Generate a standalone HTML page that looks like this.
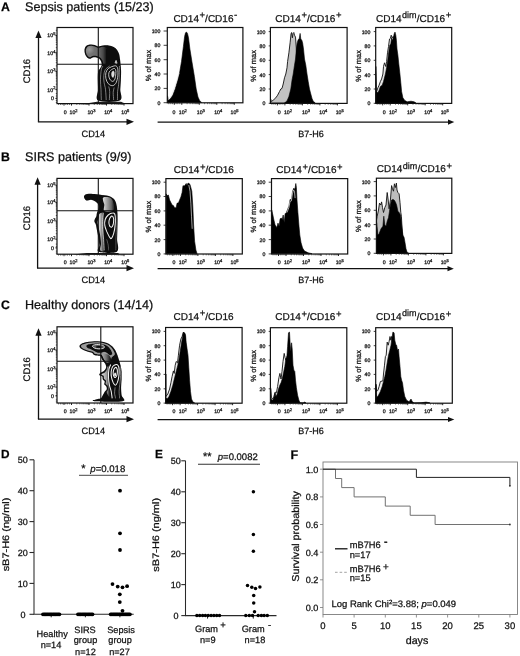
<!DOCTYPE html>
<html lang="en"><head><meta charset="utf-8"><title>Figure</title>
<style>
html,body{margin:0;padding:0;background:#fff;}
body{width:520px;height:656px;overflow:hidden;}
svg{display:block;font-family:'Liberation Sans', sans-serif;}
svg text{text-rendering:geometricPrecision;stroke:#111;stroke-width:0.25px;font-family:'Liberation Sans', sans-serif;}
</style></head><body>
<svg width="520" height="656" viewBox="0 0 520 656">
<rect x="0" y="0" width="520" height="656" fill="#fff"/>
<text x="1" y="10.5" font-size="12.3" text-anchor="start" font-weight="bold" font-style="normal" fill="#000">A</text>
<text x="25" y="10.5" font-size="12.6" text-anchor="start" font-weight="normal" font-style="normal" fill="#111">Sepsis patients (15/23)</text>
<g transform="translate(57 27.5)"><defs><linearGradient id="gA1" gradientUnits="userSpaceOnUse" x1="28" y1="0" x2="50" y2="0"><stop offset="0" stop-color="#7c7c7c"/><stop offset="0.6" stop-color="#6a6a6a"/><stop offset="0.82" stop-color="#4a4a4a"/><stop offset="1" stop-color="#0a0a0a"/></linearGradient><radialGradient id="gA2" gradientUnits="userSpaceOnUse" cx="32.5" cy="22" r="5"><stop offset="0" stop-color="#999"/><stop offset="1" stop-color="#999" stop-opacity="0"/></radialGradient><filter id="bl" x="-10%" y="-10%" width="120%" height="120%"><feGaussianBlur stdDeviation="0.3"/></filter></defs>
<g filter="url(#bl)">
<path d="M41.3 73.1C37.7 71.2 41.2 65.5 41.1 62.0C41.0 58.5 40.8 55.1 40.8 52.1C40.8 49.1 40.8 46.0 41.1 44.2C41.4 42.4 42.2 42.4 42.8 41.4C43.4 40.4 44.3 39.2 44.6 38.0C44.8 36.9 44.7 35.6 44.3 34.5C43.9 33.4 43.1 32.1 42.3 31.3C41.5 30.6 40.4 30.2 39.3 29.9C38.3 29.7 36.9 29.7 35.9 29.9C34.8 30.2 33.8 31.2 32.9 31.3C32.0 31.4 31.2 30.9 30.4 30.3C29.7 29.7 28.9 28.7 28.4 27.5C28.0 26.4 27.5 24.8 27.5 23.6C27.4 22.4 27.5 21.2 28.0 20.2C28.4 19.2 29.1 18.3 30.1 17.7C31.1 17.2 32.6 17.0 33.9 17.0C35.2 16.9 36.6 17.3 37.9 17.6C39.1 18.0 40.0 19.0 41.3 19.0C42.6 19.1 44.0 18.2 45.8 18.0C47.5 17.9 49.9 17.7 51.7 17.9C53.5 18.2 55.3 18.7 56.7 19.4C58.1 20.2 59.2 21.2 60.1 22.4C61.0 23.6 61.6 24.9 62.1 26.6C62.6 28.2 62.8 30.4 63.1 32.3C63.4 34.2 63.5 36.3 63.7 38.2C63.9 40.2 64.1 41.9 64.1 44.2C64.1 46.5 64.0 49.1 63.9 52.1C63.8 55.1 63.5 58.5 63.3 62.0C63.1 65.5 66.5 71.2 62.8 73.1C59.1 74.9 44.9 74.9 41.3 73.1Z" fill="#080808"/>
<path d="M29.3 21.2C29.0 22.0 28.8 22.6 28.8 23.6C28.9 24.5 29.2 26.0 29.6 26.9C30.0 27.7 30.7 28.4 31.3 28.9C31.9 29.4 32.4 29.9 33.1 29.8C33.8 29.8 34.6 28.8 35.7 28.5C36.7 28.3 38.2 28.3 39.3 28.5C40.5 28.8 41.6 29.1 42.6 29.8C43.6 30.5 44.7 31.7 45.3 32.8C45.9 33.9 45.8 35.7 46.4 36.3C47.0 36.8 48.4 36.7 48.9 36.1C49.5 35.4 49.5 33.8 49.5 32.3C49.5 30.8 49.0 28.8 48.9 27.4C48.9 25.9 49.1 24.5 49.3 23.4C49.6 22.3 50.6 21.6 50.3 20.9C50.1 20.3 48.5 19.7 47.8 19.4C47.0 19.2 46.6 19.2 45.6 19.3C44.5 19.5 42.7 20.4 41.4 20.3C40.1 20.3 39.1 19.3 37.9 18.9C36.6 18.6 35.0 18.2 33.9 18.2C32.7 18.2 31.7 18.4 30.9 18.9C30.2 19.4 29.7 20.4 29.3 21.2Z" fill="url(#gA1)"/>
<path d="M29.3 21.2C29.0 22.0 28.8 22.6 28.8 23.6C28.9 24.5 29.2 26.0 29.6 26.9C30.0 27.7 30.7 28.4 31.3 28.9C31.9 29.4 32.4 29.9 33.1 29.8C33.8 29.8 34.6 28.8 35.7 28.5C36.7 28.3 38.2 28.3 39.3 28.5C40.5 28.8 41.6 29.1 42.6 29.8C43.6 30.5 44.7 31.7 45.3 32.8C45.9 33.9 45.8 35.7 46.4 36.3C47.0 36.8 48.4 36.7 48.9 36.1C49.5 35.4 49.5 33.8 49.5 32.3C49.5 30.8 49.0 28.8 48.9 27.4C48.9 25.9 49.1 24.5 49.3 23.4C49.6 22.3 50.6 21.6 50.3 20.9C50.1 20.3 48.5 19.7 47.8 19.4C47.0 19.2 46.6 19.2 45.6 19.3C44.5 19.5 42.7 20.4 41.4 20.3C40.1 20.3 39.1 19.3 37.9 18.9C36.6 18.6 35.0 18.2 33.9 18.2C32.7 18.2 31.7 18.4 30.9 18.9C30.2 19.4 29.7 20.4 29.3 21.2Z" fill="url(#gA2)"/>
<path d="M29 76 L40 74.3 L64 74.3 L68 76 Z" fill="#1a1a1a"/>
<path d="M59.1 32.3C58.7 32.3 57.4 35.1 57.7 35.8C57.9 36.4 60.2 36.6 60.4 36.1C60.7 35.5 59.6 32.4 59.1 32.3Z" fill="#bbb"/>
<path d="M55.9 43.4C55.4 43.6 54.7 44.7 54.5 45.7C54.3 46.6 54.6 48.2 54.9 48.9C55.2 49.6 55.9 50.2 56.3 49.9C56.7 49.6 57.1 48.1 57.3 47.2C57.4 46.2 57.4 45.0 57.2 44.4C56.9 43.8 56.3 43.2 55.9 43.4Z" fill="#ddd" stroke="#eee" stroke-width="0.3"/>
<path d="M56.7 41.0C55.7 41.3 53.5 42.7 52.7 43.7C51.9 44.7 51.7 45.8 51.7 47.2C51.7 48.5 52.0 50.5 52.7 51.6C53.4 52.7 54.8 53.9 55.7 53.9C56.5 53.9 57.3 52.9 57.9 51.6C58.4 50.3 58.7 47.7 58.8 46.2C59.0 44.6 59.0 43.1 58.6 42.2C58.3 41.3 57.7 40.8 56.7 41.0Z" stroke="#f0f0f0" fill="none" stroke-width="0.8"/>
<path d="M57.2 38.4C55.8 38.7 53.1 39.6 51.7 40.7C50.3 41.8 49.4 43.4 48.9 45.2C48.5 46.9 48.6 49.3 48.9 51.1C49.3 52.9 50.2 54.9 51.2 56.1C52.3 57.3 53.9 58.2 55.2 58.2C56.4 58.2 57.7 57.4 58.6 56.1C59.6 54.7 60.2 52.3 60.6 50.1C61.0 48.0 61.1 45.0 60.9 43.2C60.8 41.3 60.5 39.8 59.8 39.0C59.2 38.2 58.5 38.2 57.2 38.4Z" stroke="#f0f0f0" fill="none" stroke-width="0.8"/>
<path d="M46.0 38.4C45.7 39.1 44.7 39.9 44.3 42.2C43.9 44.5 43.5 48.8 43.5 52.1C43.4 55.4 43.9 58.6 44.0 62.0C44.1 65.4 44.2 70.8 44.3 72.5" stroke="#cfcfcf" fill="none" stroke-width="0.6"/>
<path d="M52.7 38.4C52.0 39.1 49.2 40.6 48.2 42.2C47.3 43.8 47.0 46.0 46.8 48.1C46.6 50.3 46.8 52.8 47.1 55.1C47.4 57.4 48.2 59.1 48.5 62.0C48.9 64.9 49.1 70.8 49.2 72.5" stroke="#cfcfcf" fill="none" stroke-width="0.6"/>
<path d="M51.7 59.0C51.9 59.9 52.6 61.7 52.7 64.0C52.8 66.2 52.4 71.1 52.3 72.5" stroke="#cfcfcf" fill="none" stroke-width="0.6"/>
<path d="M57.2 60.0C57.0 60.8 56.3 62.9 56.2 65.0C56.1 67.1 56.6 71.2 56.7 72.5" stroke="#cfcfcf" fill="none" stroke-width="0.6"/>
<path d="M62.4 38.4C62.4 39.9 62.4 44.1 62.3 47.2C62.2 50.3 61.9 54.2 61.6 57.1C61.3 59.9 60.8 61.4 60.6 64.0C60.4 66.6 60.5 71.1 60.4 72.5" stroke="#cfcfcf" fill="none" stroke-width="0.6"/>
</g></g>
<rect x="57" y="27.5" width="76" height="76.1" fill="none" stroke="#111" stroke-width="1.2"/>
<line x1="98.3" y1="27.5" x2="98.3" y2="103.6" stroke="#111" stroke-width="1.1"/>
<line x1="57" y1="64.3" x2="133" y2="64.3" stroke="#111" stroke-width="1.1"/>
<path d="M64 103.6 v2 M71.5 103.6 v2 M89 103.6 v2 M106.5 103.6 v2 M124 103.6 v2 " stroke="#111" stroke-width="0.9" fill="none"/>
<path d="M76.8 103.6 v1.4 M79.8 103.6 v1.4 M82.0 103.6 v1.4 M83.7 103.6 v1.4 M85.1 103.6 v1.4 M86.3 103.6 v1.4 M87.3 103.6 v1.4 M88.2 103.6 v1.4 M94.3 103.6 v1.4 M97.3 103.6 v1.4 M99.5 103.6 v1.4 M101.2 103.6 v1.4 M102.6 103.6 v1.4 M103.8 103.6 v1.4 M104.8 103.6 v1.4 M105.7 103.6 v1.4 M111.8 103.6 v1.4 M114.8 103.6 v1.4 M117.0 103.6 v1.4 M118.7 103.6 v1.4 M120.1 103.6 v1.4 M121.3 103.6 v1.4 M122.3 103.6 v1.4 M123.2 103.6 v1.4 M58.5 103.6 v1.4 M60.5 103.6 v1.4 M62.2 103.6 v1.4 M65.8 103.6 v1.4 M67.5 103.6 v1.4 M69.5 103.6 v1.4 " stroke="#222" stroke-width="0.6" fill="none"/>
<text x="55.4" y="37.4" font-size="5.2" text-anchor="end" fill="#111">10<tspan font-size="4.06" dy="-2.2">5</tspan></text>
<text x="55.4" y="54.7" font-size="5.2" text-anchor="end" fill="#111">10<tspan font-size="4.06" dy="-2.2">4</tspan></text>
<text x="55.4" y="73.4" font-size="5.2" text-anchor="end" fill="#111">10<tspan font-size="4.06" dy="-2.2">3</tspan></text>
<text x="55.4" y="91.5" font-size="5.2" text-anchor="end" fill="#111">10<tspan font-size="4.06" dy="-2.2">2</tspan></text>
<text x="53.8" y="100.3" font-size="5.2" text-anchor="end" font-weight="normal" font-style="normal" fill="#111">0</text>
<path d="M57 35.5 h-1.6 M57 52.8 h-1.6 M57 71.5 h-1.6 M57 89.6 h-1.6 M57 98.4 h-1.6 " stroke="#111" stroke-width="0.9" fill="none"/>
<path d="M57 47.6 h-1.2 M57 44.5 h-1.2 M57 42.4 h-1.2 M57 40.7 h-1.2 M57 39.3 h-1.2 M57 38.2 h-1.2 M57 37.2 h-1.2 M57 36.3 h-1.2 M57 65.9 h-1.2 M57 62.6 h-1.2 M57 60.2 h-1.2 M57 58.4 h-1.2 M57 56.9 h-1.2 M57 55.7 h-1.2 M57 54.6 h-1.2 M57 53.7 h-1.2 M57 84.2 h-1.2 M57 81.0 h-1.2 M57 78.7 h-1.2 M57 76.9 h-1.2 M57 75.5 h-1.2 M57 74.3 h-1.2 M57 73.3 h-1.2 M57 72.3 h-1.2 M57 93.5 h-1.2 M57 96.0 h-1.2 M57 100.5 h-1.2 M57 102.5 h-1.2 M57 30.3 h-1.2 " stroke="#111" stroke-width="0.6" fill="none"/>
<text x="65.2" y="114.4" font-size="5.2" text-anchor="middle" font-weight="normal" font-style="normal" fill="#111">0</text>
<text x="73.6" y="114.4" font-size="5.2" text-anchor="middle" fill="#111">10<tspan font-size="4.06" dy="-2.2">2</tspan></text>
<text x="91.5" y="114.4" font-size="5.2" text-anchor="middle" fill="#111">10<tspan font-size="4.06" dy="-2.2">3</tspan></text>
<text x="108.2" y="114.4" font-size="5.2" text-anchor="middle" fill="#111">10<tspan font-size="4.06" dy="-2.2">4</tspan></text>
<text x="125.3" y="114.4" font-size="5.2" text-anchor="middle" fill="#111">10<tspan font-size="4.06" dy="-2.2">5</tspan></text>
<line x1="38.5" y1="121.8" x2="38.5" y2="33.4" stroke="#111" stroke-width="1.3"/>
<path d="M38.5 30.4 L35.4 37.9 L41.6 37.9 Z" fill="#111"/>
<line x1="37.9" y1="121.8" x2="131" y2="121.8" stroke="#111" stroke-width="1.3"/>
<path d="M134 121.8 L126.5 118.7 L126.5 124.89999999999999 Z" fill="#111"/>
<text x="93.3" y="137.3" font-size="9.2" text-anchor="middle" font-weight="normal" font-style="normal" fill="#111">CD14</text>
<text x="0" y="0" font-size="9.5" text-anchor="middle" font-weight="normal" font-style="normal" fill="#111" transform="translate(29.9 71.2) rotate(-90)">CD16</text>
<path d="M167.5 95.9 L168.4 100.2 L170.2 99.0 L172.8 95.2 L175.2 89.0 L177.8 80.2 L179.6 72.8 L181.5 61.5 L183.4 46.5 L184.6 36.5 L185.5 32.8 L186.5 32.1 L187.5 33.4 L188.5 37.8 L189.9 49.0 L191.9 61.5 L194.4 76.5 L196.2 89.0 L198.0 97.1 L199.8 100.9 L201.5 102.2 L201.5 102.5 L167.5 102.5 Z" fill="#000" stroke="#000" stroke-width="0.6" stroke-linejoin="round"/>
<path d="M168.4 99.6 L171.5 95.5 L174.6 87.1 L177.1 79.6 L179.0 73.0 " fill="none" stroke="#e8e8e8" stroke-width="0.7" stroke-linejoin="round"/>
<rect x="167.3" y="27.5" width="75.6" height="75.3" fill="none" stroke="#111" stroke-width="1.2"/>
<path d="M174.3 102.8 v2 M181.8 102.8 v2 M199.3 102.8 v2 M216.8 102.8 v2 M234.3 102.8 v2 " stroke="#111" stroke-width="0.9" fill="none"/>
<path d="M187.1 102.8 v1.4 M190.1 102.8 v1.4 M192.3 102.8 v1.4 M194.0 102.8 v1.4 M195.4 102.8 v1.4 M196.6 102.8 v1.4 M197.6 102.8 v1.4 M198.5 102.8 v1.4 M204.6 102.8 v1.4 M207.6 102.8 v1.4 M209.8 102.8 v1.4 M211.5 102.8 v1.4 M212.9 102.8 v1.4 M214.1 102.8 v1.4 M215.1 102.8 v1.4 M216.0 102.8 v1.4 M222.1 102.8 v1.4 M225.1 102.8 v1.4 M227.3 102.8 v1.4 M229.0 102.8 v1.4 M230.4 102.8 v1.4 M231.6 102.8 v1.4 M232.6 102.8 v1.4 M233.5 102.8 v1.4 M168.8 102.8 v1.4 M170.8 102.8 v1.4 M172.5 102.8 v1.4 M176.10000000000002 102.8 v1.4 M177.8 102.8 v1.4 M179.8 102.8 v1.4 " stroke="#222" stroke-width="0.6" fill="none"/>
<text x="160.29999999999998" y="104.6" font-size="5.2" text-anchor="end" font-weight="normal" font-style="normal" fill="#111">0</text>
<text x="160.29999999999998" y="90.3" font-size="5.2" text-anchor="end" font-weight="normal" font-style="normal" fill="#111">20</text>
<text x="160.29999999999998" y="75.9" font-size="5.2" text-anchor="end" font-weight="normal" font-style="normal" fill="#111">40</text>
<text x="160.29999999999998" y="61.6" font-size="5.2" text-anchor="end" font-weight="normal" font-style="normal" fill="#111">60</text>
<text x="160.29999999999998" y="47.2" font-size="5.2" text-anchor="end" font-weight="normal" font-style="normal" fill="#111">80</text>
<text x="160.29999999999998" y="32.9" font-size="5.2" text-anchor="end" font-weight="normal" font-style="normal" fill="#111">100</text>
<path d="M167.3 102.7 h-3.7 M167.3 88.4 h-3.7 M167.3 74.0 h-3.7 M167.3 59.7 h-3.7 M167.3 45.3 h-3.7 M167.3 31.0 h-3.7 " stroke="#111" stroke-width="0.8" fill="none"/>
<text x="174.0" y="114.4" font-size="5.2" text-anchor="middle" font-weight="normal" font-style="normal" fill="#111">0</text>
<text x="182.8" y="114.4" font-size="5.2" text-anchor="middle" fill="#111">10<tspan font-size="4.06" dy="-2.2">2</tspan></text>
<text x="200.8" y="114.4" font-size="5.2" text-anchor="middle" fill="#111">10<tspan font-size="4.06" dy="-2.2">3</tspan></text>
<text x="218.2" y="114.4" font-size="5.2" text-anchor="middle" fill="#111">10<tspan font-size="4.06" dy="-2.2">4</tspan></text>
<text x="234.6" y="114.4" font-size="5.2" text-anchor="middle" fill="#111">10<tspan font-size="4.06" dy="-2.2">5</tspan></text>
<text x="0" y="0" font-size="7.6" text-anchor="middle" font-weight="normal" font-style="normal" fill="#111" transform="translate(151.29999999999998 65.5) rotate(-90)">% of max</text>
<text x="205.3" y="21.7" font-size="10" text-anchor="middle" fill="#111">CD14<tspan font-size="9.5" dy="-3.3" dx="0.6">+</tspan><tspan dy="3.3">/CD16</tspan><tspan font-size="10" dy="-3.6" dx="0.4">-</tspan></text>
<path d="M270.6 99.0 L271.4 101.5 L273.2 100.2 L275.8 97.8 L277.6 95.2 L279.5 91.5 L280.8 89.0 L282.0 88.4 L283.2 84.0 L284.5 77.8 L285.8 74.0 L287.0 67.8 L287.6 61.5 L288.9 52.8 L290.1 42.8 L291.0 34.0 L291.6 32.5 L292.4 37.8 L293.0 33.4 L293.8 32.5 L294.5 35.2 L295.5 37.1 L296.0 44.0 L296.6 52.8 L298.2 74.0 L299.8 94.0 L300.8 102.1 L300.8 103.1 L270.6 103.1 Z" fill="#c2c2c2" stroke="#111" stroke-width="0.9" stroke-linejoin="round"/>
<path d="M284.5 103.0 L287.0 100.9 L288.9 96.5 L290.8 89.0 L292.0 80.2 L293.2 74.0 L294.5 65.2 L295.5 59.0 L296.4 49.0 L297.2 42.8 L298.2 39.6 L299.2 39.0 L300.1 33.4 L300.8 39.0 L301.8 40.2 L302.6 42.8 L303.5 49.0 L304.5 59.0 L305.8 65.2 L307.0 74.0 L308.2 81.5 L309.5 89.0 L310.8 94.0 L312.0 98.4 L313.2 101.2 L315.1 102.8 L315.1 103.1 L284.5 103.1 Z" fill="#000" stroke="#000" stroke-width="0.6" stroke-linejoin="round"/>
<rect x="270.4" y="27.5" width="76.7" height="75.9" fill="none" stroke="#111" stroke-width="1.2"/>
<path d="M277.4 103.4 v2 M284.9 103.4 v2 M302.4 103.4 v2 M319.9 103.4 v2 M337.4 103.4 v2 " stroke="#111" stroke-width="0.9" fill="none"/>
<path d="M290.2 103.4 v1.4 M293.2 103.4 v1.4 M295.4 103.4 v1.4 M297.1 103.4 v1.4 M298.5 103.4 v1.4 M299.7 103.4 v1.4 M300.7 103.4 v1.4 M301.6 103.4 v1.4 M307.7 103.4 v1.4 M310.7 103.4 v1.4 M312.9 103.4 v1.4 M314.6 103.4 v1.4 M316.0 103.4 v1.4 M317.2 103.4 v1.4 M318.2 103.4 v1.4 M319.1 103.4 v1.4 M325.2 103.4 v1.4 M328.2 103.4 v1.4 M330.4 103.4 v1.4 M332.1 103.4 v1.4 M333.5 103.4 v1.4 M334.7 103.4 v1.4 M335.7 103.4 v1.4 M336.6 103.4 v1.4 M271.9 103.4 v1.4 M273.9 103.4 v1.4 M275.59999999999997 103.4 v1.4 M279.2 103.4 v1.4 M280.9 103.4 v1.4 M282.9 103.4 v1.4 " stroke="#222" stroke-width="0.6" fill="none"/>
<text x="265.40000000000003" y="105.2" font-size="5.2" text-anchor="end" font-weight="normal" font-style="normal" fill="#111">0</text>
<text x="265.40000000000003" y="90.9" font-size="5.2" text-anchor="end" font-weight="normal" font-style="normal" fill="#111">20</text>
<text x="265.40000000000003" y="76.5" font-size="5.2" text-anchor="end" font-weight="normal" font-style="normal" fill="#111">40</text>
<text x="265.40000000000003" y="62.2" font-size="5.2" text-anchor="end" font-weight="normal" font-style="normal" fill="#111">60</text>
<text x="265.40000000000003" y="47.8" font-size="5.2" text-anchor="end" font-weight="normal" font-style="normal" fill="#111">80</text>
<text x="265.40000000000003" y="33.5" font-size="5.2" text-anchor="end" font-weight="normal" font-style="normal" fill="#111">100</text>
<path d="M270.4 103.3 h-1.7 M270.4 89.0 h-1.7 M270.4 74.6 h-1.7 M270.4 60.3 h-1.7 M270.4 45.9 h-1.7 M270.4 31.6 h-1.7 " stroke="#111" stroke-width="0.8" fill="none"/>
<text x="279.1" y="114.4" font-size="5.2" text-anchor="middle" font-weight="normal" font-style="normal" fill="#111">0</text>
<text x="287.9" y="114.4" font-size="5.2" text-anchor="middle" fill="#111">10<tspan font-size="4.06" dy="-2.2">2</tspan></text>
<text x="305.9" y="114.4" font-size="5.2" text-anchor="middle" fill="#111">10<tspan font-size="4.06" dy="-2.2">3</tspan></text>
<text x="323.3" y="114.4" font-size="5.2" text-anchor="middle" fill="#111">10<tspan font-size="4.06" dy="-2.2">4</tspan></text>
<text x="339.7" y="114.4" font-size="5.2" text-anchor="middle" fill="#111">10<tspan font-size="4.06" dy="-2.2">5</tspan></text>
<text x="0" y="0" font-size="7.6" text-anchor="middle" font-weight="normal" font-style="normal" fill="#111" transform="translate(256.40000000000003 65.8) rotate(-90)">% of max</text>
<text x="308.4" y="21.7" font-size="10" text-anchor="middle" fill="#111">CD14<tspan font-size="9.5" dy="-3.3" dx="0.6">+</tspan><tspan dy="3.3">/CD16</tspan><tspan font-size="9.5" dy="-3.3" dx="0.6">+</tspan></text>
<path d="M376.0 94.0 L376.6 91.5 L377.9 87.8 L379.1 85.2 L380.4 81.5 L381.6 79.0 L382.9 74.0 L383.5 66.5 L384.5 62.8 L385.8 66.5 L386.6 61.5 L387.5 52.8 L388.5 46.5 L389.5 39.0 L390.4 38.4 L391.2 35.2 L392.2 37.8 L393.2 36.5 L394.8 49.0 L397.2 86.5 L398.5 101.5 L398.5 103.1 L376.0 103.1 Z" fill="#e4e4e4" stroke="#111" stroke-width="0.9" stroke-linejoin="round"/>
<path d="M375.9 66.5 L376.6 91.5 L377.9 92.8 L379.1 90.2 L380.4 86.5 L382.2 85.2 L383.5 81.5 L385.4 74.0 L386.6 67.8 L387.9 59.0 L388.8 51.5 L389.8 45.2 L390.8 44.0 L391.6 37.8 L392.5 40.2 L393.2 39.0 L394.1 34.0 L395.0 32.1 L395.8 35.2 L396.4 40.2 L397.0 49.0 L397.9 55.2 L398.8 64.0 L399.8 72.8 L400.8 82.8 L401.6 91.5 L402.9 97.8 L404.8 100.5 L407.2 101.8 L411.0 101.2 L414.1 101.8 L416.0 103.0 L416.0 103.1 L375.9 103.1 Z" fill="#000" stroke="#000" stroke-width="0.6" stroke-linejoin="round"/>
<rect x="375.7" y="27.5" width="76" height="75.9" fill="none" stroke="#111" stroke-width="1.2"/>
<path d="M382.7 103.4 v2 M390.2 103.4 v2 M407.7 103.4 v2 M425.2 103.4 v2 M442.7 103.4 v2 " stroke="#111" stroke-width="0.9" fill="none"/>
<path d="M395.5 103.4 v1.4 M398.5 103.4 v1.4 M400.7 103.4 v1.4 M402.4 103.4 v1.4 M403.8 103.4 v1.4 M405.0 103.4 v1.4 M406.0 103.4 v1.4 M406.9 103.4 v1.4 M413.0 103.4 v1.4 M416.0 103.4 v1.4 M418.2 103.4 v1.4 M419.9 103.4 v1.4 M421.3 103.4 v1.4 M422.5 103.4 v1.4 M423.5 103.4 v1.4 M424.4 103.4 v1.4 M430.5 103.4 v1.4 M433.5 103.4 v1.4 M435.7 103.4 v1.4 M437.4 103.4 v1.4 M438.8 103.4 v1.4 M440.0 103.4 v1.4 M441.0 103.4 v1.4 M441.9 103.4 v1.4 M377.2 103.4 v1.4 M379.2 103.4 v1.4 M380.9 103.4 v1.4 M384.5 103.4 v1.4 M386.2 103.4 v1.4 M388.2 103.4 v1.4 " stroke="#222" stroke-width="0.6" fill="none"/>
<text x="370.40000000000003" y="105.2" font-size="5.2" text-anchor="end" font-weight="normal" font-style="normal" fill="#111">0</text>
<text x="370.40000000000003" y="90.9" font-size="5.2" text-anchor="end" font-weight="normal" font-style="normal" fill="#111">20</text>
<text x="370.40000000000003" y="76.5" font-size="5.2" text-anchor="end" font-weight="normal" font-style="normal" fill="#111">40</text>
<text x="370.40000000000003" y="62.2" font-size="5.2" text-anchor="end" font-weight="normal" font-style="normal" fill="#111">60</text>
<text x="370.40000000000003" y="47.8" font-size="5.2" text-anchor="end" font-weight="normal" font-style="normal" fill="#111">80</text>
<text x="370.40000000000003" y="33.5" font-size="5.2" text-anchor="end" font-weight="normal" font-style="normal" fill="#111">100</text>
<path d="M375.7 103.3 h-2.0 M375.7 89.0 h-2.0 M375.7 74.6 h-2.0 M375.7 60.3 h-2.0 M375.7 45.9 h-2.0 M375.7 31.6 h-2.0 " stroke="#111" stroke-width="0.8" fill="none"/>
<text x="384.1" y="114.4" font-size="5.2" text-anchor="middle" font-weight="normal" font-style="normal" fill="#111">0</text>
<text x="392.9" y="114.4" font-size="5.2" text-anchor="middle" fill="#111">10<tspan font-size="4.06" dy="-2.2">2</tspan></text>
<text x="410.9" y="114.4" font-size="5.2" text-anchor="middle" fill="#111">10<tspan font-size="4.06" dy="-2.2">3</tspan></text>
<text x="428.3" y="114.4" font-size="5.2" text-anchor="middle" fill="#111">10<tspan font-size="4.06" dy="-2.2">4</tspan></text>
<text x="444.7" y="114.4" font-size="5.2" text-anchor="middle" fill="#111">10<tspan font-size="4.06" dy="-2.2">5</tspan></text>
<text x="0" y="0" font-size="7.6" text-anchor="middle" font-weight="normal" font-style="normal" fill="#111" transform="translate(361.40000000000003 65.8) rotate(-90)">% of max</text>
<text x="413.7" y="21.7" font-size="10" text-anchor="middle" fill="#111">CD14<tspan font-size="9" dy="-3.6" dx="0.3">dim</tspan><tspan dy="3.6" dx="0.3">/CD16</tspan><tspan font-size="9.5" dy="-3.3" dx="0.6">+</tspan></text>
<line x1="157.6" y1="122.1" x2="451.3" y2="122.1" stroke="#111" stroke-width="1.25"/>
<path d="M454.3 122.1 L448.0 119.5 L448.0 124.69999999999999 Z" fill="#111"/>
<text x="311" y="136.5" font-size="9" text-anchor="middle" font-weight="normal" font-style="normal" fill="#111">B7-H6</text>
<text x="1.1" y="161" font-size="12.3" text-anchor="start" font-weight="bold" font-style="normal" fill="#000">B</text>
<text x="25" y="161" font-size="12.6" text-anchor="start" font-weight="normal" font-style="normal" fill="#111">SIRS patients (9/9)</text>
<g transform="translate(57 178.4)"><defs><linearGradient id="gB1" gradientUnits="userSpaceOnUse" x1="46" y1="0" x2="58" y2="0"><stop offset="0" stop-color="#e0e0e0"/><stop offset="0.25" stop-color="#b0b0b0"/><stop offset="0.7" stop-color="#666"/><stop offset="1" stop-color="#0a0a0a"/></linearGradient><linearGradient id="gB2" gradientUnits="userSpaceOnUse" x1="41.5" y1="0" x2="47.5" y2="0"><stop offset="0" stop-color="#e4e4e4"/><stop offset="0.45" stop-color="#a0a0a0"/><stop offset="0.8" stop-color="#444"/><stop offset="1" stop-color="#0a0a0a"/></linearGradient></defs>
<g filter="url(#bl)">
<path d="M41.8 73.3C38.9 72.2 42.4 69.2 42.3 66.8C42.2 64.5 41.7 61.6 41.3 58.9C40.9 56.3 40.2 53.1 39.8 51.0C39.4 48.9 39.3 47.4 38.8 46.1C38.4 44.7 37.5 44.0 37.4 43.1C37.2 42.2 37.5 41.4 37.9 40.6C38.2 39.8 39.0 39.0 39.3 38.1C39.7 37.2 39.5 36.3 39.8 35.2C40.2 34.0 41.0 32.4 41.3 31.2C41.6 30.0 41.9 29.2 41.8 28.2C41.7 27.2 41.5 26.2 40.8 25.3C40.2 24.4 39.0 23.4 37.9 22.8C36.7 22.1 35.2 21.4 33.9 21.3C32.6 21.2 30.9 22.2 29.9 22.1C28.9 22.0 28.4 21.4 28.0 20.8C27.5 20.2 26.9 19.1 27.0 18.3C27.0 17.6 27.6 16.6 28.4 16.2C29.3 15.7 30.7 15.5 31.9 15.4C33.1 15.3 34.6 15.5 35.9 15.6C37.2 15.6 38.3 15.7 39.8 15.9C41.3 16.0 43.1 16.3 44.8 16.5C46.4 16.8 48.2 16.8 49.7 17.1C51.2 17.4 52.5 17.8 53.7 18.3C54.8 18.9 55.8 19.5 56.7 20.3C57.5 21.1 58.1 22.0 58.6 23.3C59.2 24.6 59.5 26.4 59.8 28.2C60.1 30.0 60.3 32.0 60.4 34.2C60.6 36.3 60.6 38.3 60.6 41.1C60.6 43.9 60.5 47.7 60.4 51.0C60.3 54.3 60.2 57.2 60.1 60.9C60.0 64.6 62.9 71.2 59.8 73.3C56.8 75.3 44.7 74.4 41.8 73.3Z" fill="#080808"/>
<path d="M46.3 19.1C47.1 18.6 49.4 18.5 50.7 18.7C52.1 18.9 53.5 19.4 54.5 20.3C55.4 21.2 56.1 22.5 56.5 24.3C56.9 26.1 57.5 29.7 56.9 31.2C56.2 32.7 54.3 33.1 52.7 33.4C51.1 33.6 48.2 33.2 47.3 32.7C46.3 32.2 46.8 31.3 46.8 30.2C46.8 29.1 47.4 27.7 47.3 26.3C47.1 24.8 46.1 23.0 46.0 21.8C45.8 20.6 45.5 19.6 46.3 19.1Z" fill="url(#gB1)"/>
<path d="M42.8 35.2C44.0 34.3 48.1 33.4 48.9 34.4C49.8 35.4 48.2 38.3 48.0 41.1C47.7 43.9 47.3 47.7 47.4 51.0C47.4 54.3 48.0 57.4 48.3 60.9C48.7 64.4 50.2 70.1 49.3 72.0C48.5 73.8 44.3 73.2 43.4 72.0C42.5 70.8 44.1 67.5 44.0 64.9C43.9 62.2 43.4 58.6 43.0 56.0C42.6 53.3 42.0 51.0 41.6 49.0C41.2 47.0 40.6 45.6 40.6 44.1C40.6 42.5 41.3 41.1 41.6 39.6C42.0 38.1 41.6 36.0 42.8 35.2Z" fill="url(#gB2)"/>
<path d="M16 76 L30 74.5 L61 74.5 L63 76 Z" fill="#1a1a1a"/>
<path d="M54.7 37.6C54.2 37.9 53.2 39.0 52.7 40.1C52.2 41.2 51.9 42.8 51.9 44.1C51.9 45.3 52.3 46.7 52.7 47.5C53.1 48.3 53.9 49.1 54.5 48.8C55.1 48.6 55.8 47.3 56.2 46.1C56.5 44.8 56.7 42.4 56.7 41.1C56.6 39.8 56.2 38.9 55.9 38.3C55.5 37.8 55.2 37.3 54.7 37.6Z" stroke="#f4f4f4" fill="none" stroke-width="1.05"/>
<path d="M55.7 34.7C54.6 34.8 52.5 35.6 51.2 36.6C50.0 37.7 48.8 39.4 48.2 41.1C47.7 42.8 47.5 45.1 47.8 47.0C48.0 49.0 48.9 51.0 49.7 53.0C50.6 55.0 51.9 57.8 52.7 58.9C53.5 60.1 53.8 60.6 54.5 59.9C55.1 59.3 56.1 57.1 56.7 55.0C57.3 52.8 57.9 49.5 58.1 47.0C58.4 44.6 58.5 42.0 58.4 40.1C58.4 38.2 58.1 36.6 57.7 35.7C57.2 34.7 56.7 34.5 55.7 34.7Z" stroke="#f4f4f4" fill="none" stroke-width="1.05"/>
<path d="M46.4 34.8C46.2 35.8 45.7 38.4 45.6 41.1C45.4 43.8 45.4 47.7 45.6 51.0C45.7 54.3 46.3 57.4 46.6 60.9C46.8 64.4 47.1 70.1 47.2 72.0" stroke="#eee" fill="none" stroke-width="0.7"/>
<path d="M58.8 35.2C58.9 37.8 59.2 46.7 59.2 51.0C59.3 55.3 59.0 57.4 58.9 60.9C58.9 64.4 58.9 70.1 58.8 72.0" stroke="#999" fill="none" stroke-width="0.5"/>
<path d="M49.7 60.9C50.0 61.9 50.9 65.0 51.2 66.8C51.5 68.7 51.6 71.1 51.7 72.0" stroke="#aaa" fill="none" stroke-width="0.5"/>
</g></g>
<rect x="57" y="178.4" width="76" height="75.79999999999998" fill="none" stroke="#111" stroke-width="1.2"/>
<line x1="98.3" y1="178.4" x2="98.3" y2="254.2" stroke="#111" stroke-width="1.1"/>
<line x1="57" y1="210.8" x2="133" y2="210.8" stroke="#111" stroke-width="1.1"/>
<path d="M64 254.2 v2 M71.5 254.2 v2 M89 254.2 v2 M106.5 254.2 v2 M124 254.2 v2 " stroke="#111" stroke-width="0.9" fill="none"/>
<path d="M76.8 254.2 v1.4 M79.8 254.2 v1.4 M82.0 254.2 v1.4 M83.7 254.2 v1.4 M85.1 254.2 v1.4 M86.3 254.2 v1.4 M87.3 254.2 v1.4 M88.2 254.2 v1.4 M94.3 254.2 v1.4 M97.3 254.2 v1.4 M99.5 254.2 v1.4 M101.2 254.2 v1.4 M102.6 254.2 v1.4 M103.8 254.2 v1.4 M104.8 254.2 v1.4 M105.7 254.2 v1.4 M111.8 254.2 v1.4 M114.8 254.2 v1.4 M117.0 254.2 v1.4 M118.7 254.2 v1.4 M120.1 254.2 v1.4 M121.3 254.2 v1.4 M122.3 254.2 v1.4 M123.2 254.2 v1.4 M58.5 254.2 v1.4 M60.5 254.2 v1.4 M62.2 254.2 v1.4 M65.8 254.2 v1.4 M67.5 254.2 v1.4 M69.5 254.2 v1.4 " stroke="#222" stroke-width="0.6" fill="none"/>
<text x="55.4" y="187.2" font-size="5.2" text-anchor="end" fill="#111">10<tspan font-size="4.06" dy="-2.2">5</tspan></text>
<text x="55.4" y="204.4" font-size="5.2" text-anchor="end" fill="#111">10<tspan font-size="4.06" dy="-2.2">4</tspan></text>
<text x="55.4" y="223.0" font-size="5.2" text-anchor="end" fill="#111">10<tspan font-size="4.06" dy="-2.2">3</tspan></text>
<text x="55.4" y="241.1" font-size="5.2" text-anchor="end" fill="#111">10<tspan font-size="4.06" dy="-2.2">2</tspan></text>
<text x="53.8" y="249.8" font-size="5.2" text-anchor="end" font-weight="normal" font-style="normal" fill="#111">0</text>
<path d="M57 185.3 h-1.6 M57 202.5 h-1.6 M57 221.1 h-1.6 M57 239.2 h-1.6 M57 247.9 h-1.6 " stroke="#111" stroke-width="0.9" fill="none"/>
<path d="M57 197.3 h-1.2 M57 194.3 h-1.2 M57 192.1 h-1.2 M57 190.5 h-1.2 M57 189.1 h-1.2 M57 187.9 h-1.2 M57 186.9 h-1.2 M57 186.1 h-1.2 M57 215.5 h-1.2 M57 212.2 h-1.2 M57 209.9 h-1.2 M57 208.1 h-1.2 M57 206.6 h-1.2 M57 205.4 h-1.2 M57 204.3 h-1.2 M57 203.4 h-1.2 M57 233.7 h-1.2 M57 230.6 h-1.2 M57 228.3 h-1.2 M57 226.6 h-1.2 M57 225.1 h-1.2 M57 223.9 h-1.2 M57 222.9 h-1.2 M57 222.0 h-1.2 M57 244.1 h-1.2 M57 246.6 h-1.2 M57 251.1 h-1.2 M57 253.1 h-1.2 M57 180.1 h-1.2 " stroke="#111" stroke-width="0.6" fill="none"/>
<text x="65.2" y="263.9" font-size="5.2" text-anchor="middle" font-weight="normal" font-style="normal" fill="#111">0</text>
<text x="73.6" y="263.9" font-size="5.2" text-anchor="middle" fill="#111">10<tspan font-size="4.06" dy="-2.2">2</tspan></text>
<text x="91.5" y="263.9" font-size="5.2" text-anchor="middle" fill="#111">10<tspan font-size="4.06" dy="-2.2">3</tspan></text>
<text x="108.2" y="263.9" font-size="5.2" text-anchor="middle" fill="#111">10<tspan font-size="4.06" dy="-2.2">4</tspan></text>
<text x="125.3" y="263.9" font-size="5.2" text-anchor="middle" fill="#111">10<tspan font-size="4.06" dy="-2.2">5</tspan></text>
<line x1="37.6" y1="268.2" x2="37.6" y2="180.2" stroke="#111" stroke-width="1.3"/>
<path d="M37.6 177.2 L34.5 184.7 L40.7 184.7 Z" fill="#111"/>
<line x1="37.0" y1="268.2" x2="131" y2="268.2" stroke="#111" stroke-width="1.3"/>
<path d="M134 268.2 L126.5 265.09999999999997 L126.5 271.3 Z" fill="#111"/>
<text x="93.3" y="283.3" font-size="9.2" text-anchor="middle" font-weight="normal" font-style="normal" fill="#111">CD14</text>
<text x="0" y="0" font-size="9.5" text-anchor="middle" font-weight="normal" font-style="normal" fill="#111" transform="translate(29.9 218) rotate(-90)">CD16</text>
<path d="M166.1 193.8 L167.1 195.6 L168.4 195.0 L169.6 200.0 L170.9 202.5 L172.1 205.0 L173.4 205.6 L174.6 207.8 L176.1 207.8 L177.1 203.1 L178.4 203.1 L179.6 200.0 L180.9 196.9 L182.1 192.5 L183.0 185.6 L184.0 186.2 L185.2 185.0 L186.2 183.5 L187.1 185.6 L188.0 183.1 L189.0 183.5 L190.0 184.4 L191.8 191.2 L192.8 206.2 L193.6 225.0 L194.6 241.2 L195.9 250.0 L197.1 253.7 L197.1 253.7 L166.1 253.7 Z" fill="#000" stroke="#000" stroke-width="0.6" stroke-linejoin="round"/>
<path d="M188.8 185.0 L190.0 191.2 L190.9 203.8 L191.5 216.2 L192.2 228.8 " fill="none" stroke="#e8e8e8" stroke-width="0.7" stroke-linejoin="round"/>
<rect x="165.9" y="178.6" width="76.4" height="75.4" fill="none" stroke="#111" stroke-width="1.2"/>
<path d="M172.9 254 v2 M180.4 254 v2 M197.9 254 v2 M215.4 254 v2 M232.9 254 v2 " stroke="#111" stroke-width="0.9" fill="none"/>
<path d="M185.7 254 v1.4 M188.7 254 v1.4 M190.9 254 v1.4 M192.6 254 v1.4 M194.0 254 v1.4 M195.2 254 v1.4 M196.2 254 v1.4 M197.1 254 v1.4 M203.2 254 v1.4 M206.2 254 v1.4 M208.4 254 v1.4 M210.1 254 v1.4 M211.5 254 v1.4 M212.7 254 v1.4 M213.7 254 v1.4 M214.6 254 v1.4 M220.7 254 v1.4 M223.7 254 v1.4 M225.9 254 v1.4 M227.6 254 v1.4 M229.0 254 v1.4 M230.2 254 v1.4 M231.2 254 v1.4 M232.1 254 v1.4 M167.4 254 v1.4 M169.4 254 v1.4 M171.1 254 v1.4 M174.70000000000002 254 v1.4 M176.4 254 v1.4 M178.4 254 v1.4 " stroke="#222" stroke-width="0.6" fill="none"/>
<text x="160.29999999999998" y="255.8" font-size="5.2" text-anchor="end" font-weight="normal" font-style="normal" fill="#111">0</text>
<text x="160.29999999999998" y="241.5" font-size="5.2" text-anchor="end" font-weight="normal" font-style="normal" fill="#111">20</text>
<text x="160.29999999999998" y="227.1" font-size="5.2" text-anchor="end" font-weight="normal" font-style="normal" fill="#111">40</text>
<text x="160.29999999999998" y="212.8" font-size="5.2" text-anchor="end" font-weight="normal" font-style="normal" fill="#111">60</text>
<text x="160.29999999999998" y="198.4" font-size="5.2" text-anchor="end" font-weight="normal" font-style="normal" fill="#111">80</text>
<text x="160.29999999999998" y="184.1" font-size="5.2" text-anchor="end" font-weight="normal" font-style="normal" fill="#111">100</text>
<path d="M165.9 253.9 h-2.3 M165.9 239.6 h-2.3 M165.9 225.2 h-2.3 M165.9 210.9 h-2.3 M165.9 196.5 h-2.3 M165.9 182.2 h-2.3 " stroke="#111" stroke-width="0.8" fill="none"/>
<text x="174.0" y="263.7" font-size="5.2" text-anchor="middle" font-weight="normal" font-style="normal" fill="#111">0</text>
<text x="182.8" y="263.7" font-size="5.2" text-anchor="middle" fill="#111">10<tspan font-size="4.06" dy="-2.2">2</tspan></text>
<text x="200.8" y="263.7" font-size="5.2" text-anchor="middle" fill="#111">10<tspan font-size="4.06" dy="-2.2">3</tspan></text>
<text x="218.2" y="263.7" font-size="5.2" text-anchor="middle" fill="#111">10<tspan font-size="4.06" dy="-2.2">4</tspan></text>
<text x="234.6" y="263.7" font-size="5.2" text-anchor="middle" fill="#111">10<tspan font-size="4.06" dy="-2.2">5</tspan></text>
<text x="0" y="0" font-size="7.6" text-anchor="middle" font-weight="normal" font-style="normal" fill="#111" transform="translate(151.29999999999998 216.6) rotate(-90)">% of max</text>
<text x="203.9" y="172.8" font-size="10" text-anchor="middle" fill="#111">CD14<tspan font-size="9.5" dy="-3.3" dx="0.6">+</tspan><tspan dy="3.3">/CD16</tspan></text>
<path d="M271.7 210.0 L272.6 213.8 L273.9 220.0 L275.1 225.0 L276.8 227.5 L278.0 223.1 L279.1 226.2 L280.1 218.8 L281.4 218.1 L282.2 219.4 L283.2 215.0 L284.2 222.5 L285.1 213.8 L286.4 212.5 L287.6 209.4 L288.9 206.2 L290.1 199.4 L291.4 200.0 L292.6 191.2 L293.9 188.1 L294.8 190.0 L295.8 183.5 L296.4 187.5 L297.0 200.0 L297.9 212.5 L298.9 225.0 L299.8 235.0 L301.0 242.5 L302.6 248.1 L304.5 251.0 L308.2 252.8 L312.0 253.7 L312.0 253.7 L271.7 253.7 Z" fill="#000" stroke="#000" stroke-width="0.6" stroke-linejoin="round"/>
<path d="M287.0 212.5 L288.9 207.5 L290.1 201.2 L291.4 200.9 L292.4 193.8 L293.5 190.0 L294.5 191.2 L295.1 198.1 " fill="none" stroke="#e8e8e8" stroke-width="0.7" stroke-linejoin="round"/>
<rect x="271.5" y="178.6" width="76.2" height="75.4" fill="none" stroke="#111" stroke-width="1.2"/>
<path d="M278.5 254 v2 M286.0 254 v2 M303.5 254 v2 M321.0 254 v2 M338.5 254 v2 " stroke="#111" stroke-width="0.9" fill="none"/>
<path d="M291.3 254 v1.4 M294.3 254 v1.4 M296.5 254 v1.4 M298.2 254 v1.4 M299.6 254 v1.4 M300.8 254 v1.4 M301.8 254 v1.4 M302.7 254 v1.4 M308.8 254 v1.4 M311.8 254 v1.4 M314.0 254 v1.4 M315.7 254 v1.4 M317.1 254 v1.4 M318.3 254 v1.4 M319.3 254 v1.4 M320.2 254 v1.4 M326.3 254 v1.4 M329.3 254 v1.4 M331.5 254 v1.4 M333.2 254 v1.4 M334.6 254 v1.4 M335.8 254 v1.4 M336.8 254 v1.4 M337.7 254 v1.4 M273.0 254 v1.4 M275.0 254 v1.4 M276.7 254 v1.4 M280.3 254 v1.4 M282.0 254 v1.4 M284.0 254 v1.4 " stroke="#222" stroke-width="0.6" fill="none"/>
<text x="265.40000000000003" y="255.8" font-size="5.2" text-anchor="end" font-weight="normal" font-style="normal" fill="#111">0</text>
<text x="265.40000000000003" y="241.5" font-size="5.2" text-anchor="end" font-weight="normal" font-style="normal" fill="#111">20</text>
<text x="265.40000000000003" y="227.1" font-size="5.2" text-anchor="end" font-weight="normal" font-style="normal" fill="#111">40</text>
<text x="265.40000000000003" y="212.8" font-size="5.2" text-anchor="end" font-weight="normal" font-style="normal" fill="#111">60</text>
<text x="265.40000000000003" y="198.4" font-size="5.2" text-anchor="end" font-weight="normal" font-style="normal" fill="#111">80</text>
<text x="265.40000000000003" y="184.1" font-size="5.2" text-anchor="end" font-weight="normal" font-style="normal" fill="#111">100</text>
<path d="M271.5 253.9 h-2.8 M271.5 239.6 h-2.8 M271.5 225.2 h-2.8 M271.5 210.9 h-2.8 M271.5 196.5 h-2.8 M271.5 182.2 h-2.8 " stroke="#111" stroke-width="0.8" fill="none"/>
<text x="279.1" y="263.7" font-size="5.2" text-anchor="middle" font-weight="normal" font-style="normal" fill="#111">0</text>
<text x="287.9" y="263.7" font-size="5.2" text-anchor="middle" fill="#111">10<tspan font-size="4.06" dy="-2.2">2</tspan></text>
<text x="305.9" y="263.7" font-size="5.2" text-anchor="middle" fill="#111">10<tspan font-size="4.06" dy="-2.2">3</tspan></text>
<text x="323.3" y="263.7" font-size="5.2" text-anchor="middle" fill="#111">10<tspan font-size="4.06" dy="-2.2">4</tspan></text>
<text x="339.7" y="263.7" font-size="5.2" text-anchor="middle" fill="#111">10<tspan font-size="4.06" dy="-2.2">5</tspan></text>
<text x="0" y="0" font-size="7.6" text-anchor="middle" font-weight="normal" font-style="normal" fill="#111" transform="translate(256.40000000000003 216.6) rotate(-90)">% of max</text>
<text x="309.5" y="172.8" font-size="10" text-anchor="middle" fill="#111">CD14<tspan font-size="9.5" dy="-3.3" dx="0.6">+</tspan><tspan dy="3.3">/CD16</tspan><tspan font-size="9.5" dy="-3.3" dx="0.6">+</tspan></text>
<path d="M376.6 220.0 L377.2 216.2 L378.5 210.0 L379.5 203.1 L380.8 205.0 L381.6 201.9 L382.5 207.5 L383.5 212.5 L384.8 207.5 L386.0 205.0 L387.2 192.5 L388.2 200.0 L389.1 208.8 L390.4 200.0 L391.6 185.6 L392.5 188.8 L393.5 191.2 L394.4 183.8 L395.4 187.5 L396.4 183.1 L397.0 190.0 L397.9 192.5 L399.1 193.8 L400.0 202.5 L400.8 212.5 L401.4 216.2 L402.2 231.2 L403.5 250.0 L403.5 253.1 L376.6 253.1 Z" fill="#bdbdbd" stroke="#111" stroke-width="0.9" stroke-linejoin="round"/>
<path d="M376.6 222.5 L377.9 235.0 L379.1 233.8 L381.0 228.8 L382.9 226.2 L383.8 216.2 L384.8 225.0 L386.0 226.2 L387.2 221.2 L388.5 217.5 L389.5 211.2 L390.4 205.0 L391.6 200.0 L392.9 199.4 L394.1 200.0 L395.4 201.9 L396.6 205.0 L397.9 211.2 L399.1 212.5 L400.4 215.0 L401.6 225.0 L402.9 235.0 L404.1 237.5 L405.0 242.5 L406.0 248.8 L407.2 252.5 L408.5 253.1 L408.5 253.1 L376.6 253.1 Z" fill="#000" stroke="#000" stroke-width="0.6" stroke-linejoin="round"/>
<rect x="376.4" y="178.2" width="75.4" height="75.2" fill="none" stroke="#111" stroke-width="1.2"/>
<path d="M383.4 253.4 v2 M390.9 253.4 v2 M408.4 253.4 v2 M425.9 253.4 v2 M443.4 253.4 v2 " stroke="#111" stroke-width="0.9" fill="none"/>
<path d="M396.2 253.4 v1.4 M399.2 253.4 v1.4 M401.4 253.4 v1.4 M403.1 253.4 v1.4 M404.5 253.4 v1.4 M405.7 253.4 v1.4 M406.7 253.4 v1.4 M407.6 253.4 v1.4 M413.7 253.4 v1.4 M416.7 253.4 v1.4 M418.9 253.4 v1.4 M420.6 253.4 v1.4 M422.0 253.4 v1.4 M423.2 253.4 v1.4 M424.2 253.4 v1.4 M425.1 253.4 v1.4 M431.2 253.4 v1.4 M434.2 253.4 v1.4 M436.4 253.4 v1.4 M438.1 253.4 v1.4 M439.5 253.4 v1.4 M440.7 253.4 v1.4 M441.7 253.4 v1.4 M442.6 253.4 v1.4 M377.9 253.4 v1.4 M379.9 253.4 v1.4 M381.59999999999997 253.4 v1.4 M385.2 253.4 v1.4 M386.9 253.4 v1.4 M388.9 253.4 v1.4 " stroke="#222" stroke-width="0.6" fill="none"/>
<text x="370.40000000000003" y="255.2" font-size="5.2" text-anchor="end" font-weight="normal" font-style="normal" fill="#111">0</text>
<text x="370.40000000000003" y="240.9" font-size="5.2" text-anchor="end" font-weight="normal" font-style="normal" fill="#111">20</text>
<text x="370.40000000000003" y="226.5" font-size="5.2" text-anchor="end" font-weight="normal" font-style="normal" fill="#111">40</text>
<text x="370.40000000000003" y="212.2" font-size="5.2" text-anchor="end" font-weight="normal" font-style="normal" fill="#111">60</text>
<text x="370.40000000000003" y="197.8" font-size="5.2" text-anchor="end" font-weight="normal" font-style="normal" fill="#111">80</text>
<text x="370.40000000000003" y="183.5" font-size="5.2" text-anchor="end" font-weight="normal" font-style="normal" fill="#111">100</text>
<path d="M376.4 253.3 h-2.7 M376.4 239.0 h-2.7 M376.4 224.6 h-2.7 M376.4 210.3 h-2.7 M376.4 195.9 h-2.7 M376.4 181.6 h-2.7 " stroke="#111" stroke-width="0.8" fill="none"/>
<text x="384.1" y="263.7" font-size="5.2" text-anchor="middle" font-weight="normal" font-style="normal" fill="#111">0</text>
<text x="392.9" y="263.7" font-size="5.2" text-anchor="middle" fill="#111">10<tspan font-size="4.06" dy="-2.2">2</tspan></text>
<text x="410.9" y="263.7" font-size="5.2" text-anchor="middle" fill="#111">10<tspan font-size="4.06" dy="-2.2">3</tspan></text>
<text x="428.3" y="263.7" font-size="5.2" text-anchor="middle" fill="#111">10<tspan font-size="4.06" dy="-2.2">4</tspan></text>
<text x="444.7" y="263.7" font-size="5.2" text-anchor="middle" fill="#111">10<tspan font-size="4.06" dy="-2.2">5</tspan></text>
<text x="0" y="0" font-size="7.6" text-anchor="middle" font-weight="normal" font-style="normal" fill="#111" transform="translate(361.40000000000003 216.1) rotate(-90)">% of max</text>
<text x="414.4" y="172.4" font-size="10" text-anchor="middle" fill="#111">CD14<tspan font-size="9" dy="-3.6" dx="0.3">dim</tspan><tspan dy="3.6" dx="0.3">/CD16</tspan><tspan font-size="9.5" dy="-3.3" dx="0.6">+</tspan></text>
<line x1="157.6" y1="268.7" x2="450.8" y2="268.7" stroke="#111" stroke-width="1.25"/>
<path d="M453.8 268.7 L447.5 266.09999999999997 L447.5 271.3 Z" fill="#111"/>
<text x="311" y="283.3" font-size="9" text-anchor="middle" font-weight="normal" font-style="normal" fill="#111">B7-H6</text>
<text x="1" y="309.4" font-size="12.3" text-anchor="start" font-weight="bold" font-style="normal" fill="#000">C</text>
<text x="25" y="309.4" font-size="12.6" text-anchor="start" font-weight="normal" font-style="normal" fill="#111">Healthy donors (14/14)</text>
<g transform="translate(57 326.8)"><defs><linearGradient id="gC1" gradientUnits="userSpaceOnUse" x1="44" y1="0" x2="54" y2="0"><stop offset="0" stop-color="#bbb"/><stop offset="0.5" stop-color="#777"/><stop offset="1" stop-color="#0a0a0a"/></linearGradient><linearGradient id="gC2" gradientUnits="userSpaceOnUse" x1="45" y1="0" x2="53" y2="0"><stop offset="0" stop-color="#ddd"/><stop offset="0.6" stop-color="#999"/><stop offset="1" stop-color="#0a0a0a"/></linearGradient></defs>
<g filter="url(#bl)">
<path d="M37.3 74.4C33.0 74.0 38.7 72.9 39.8 72.4C40.9 71.9 42.8 72.1 43.8 71.4C44.8 70.7 45.1 69.5 45.8 68.4C46.4 67.4 47.1 66.0 47.7 65.0C48.4 64.0 49.5 63.4 49.7 62.5C50.0 61.6 49.6 60.3 49.2 59.5C48.8 58.7 47.5 58.4 47.2 57.5C47.0 56.7 48.0 55.4 47.7 54.6C47.5 53.7 46.2 53.4 45.8 52.6C45.3 51.8 45.8 50.4 45.3 49.6C44.7 48.9 42.6 48.7 42.3 48.1C42.0 47.6 42.6 46.7 43.3 46.1C43.9 45.6 45.4 45.2 46.2 44.7C47.1 44.1 47.7 43.5 48.2 42.7C48.7 41.9 49.3 40.8 49.2 39.7C49.1 38.6 48.4 37.3 47.7 36.2C47.1 35.2 46.0 34.4 45.3 33.3C44.5 32.1 44.1 30.1 43.3 29.3C42.5 28.6 41.3 29.0 40.3 28.8C39.3 28.7 38.2 28.8 37.3 28.3C36.4 27.8 35.9 26.4 34.9 25.9C33.8 25.3 32.2 25.3 30.9 24.9C29.6 24.4 28.2 24.0 26.9 23.4C25.7 22.8 24.2 22.1 23.5 21.4C22.7 20.7 22.3 19.7 22.5 18.9C22.7 18.2 23.4 17.5 24.5 16.9C25.5 16.4 27.2 15.8 28.9 15.5C30.7 15.1 32.9 14.9 34.9 14.8C36.8 14.6 38.8 14.4 40.8 14.5C42.8 14.5 44.9 14.7 46.7 15.2C48.6 15.6 50.2 16.1 51.7 16.9C53.2 17.7 54.5 18.8 55.7 19.9C56.8 21.1 57.8 22.4 58.6 23.9C59.4 25.4 60.0 27.2 60.6 28.8C61.2 30.5 61.6 32.1 62.1 33.8C62.6 35.4 63.2 36.9 63.6 38.7C64.0 40.5 64.4 42.4 64.6 44.7C64.7 47.0 64.6 49.9 64.6 52.6C64.5 55.2 64.1 57.9 64.1 60.5C64.1 63.1 64.3 66.1 64.6 68.4C64.8 70.7 70.1 73.4 65.6 74.4C61.0 75.4 41.6 74.7 37.3 74.4Z" fill="#080808"/>
<path d="M24.0 19.1C24.1 18.6 24.5 18.2 25.5 17.7C26.4 17.3 27.8 16.8 29.4 16.4C31.0 16.1 33.0 15.9 34.9 15.8C36.8 15.6 38.9 15.4 40.8 15.5C42.7 15.5 44.6 15.8 46.2 16.1C47.9 16.5 49.4 17.0 50.7 17.7C52.0 18.4 53.2 19.4 54.2 20.4C55.2 21.4 56.0 22.6 56.6 23.9C57.3 25.1 58.2 26.7 57.8 27.8C57.5 29.0 55.4 29.7 54.7 30.8C54.0 31.9 54.3 33.5 53.7 34.3C53.0 35.0 51.5 35.3 50.7 35.3C49.9 35.3 49.3 34.8 48.7 34.3C48.1 33.8 47.6 33.3 46.9 32.3C46.3 31.3 45.8 29.1 44.8 28.3C43.7 27.6 42.0 27.8 40.8 27.6C39.6 27.4 38.7 27.5 37.8 27.0C37.0 26.6 36.7 25.4 35.7 24.9C34.6 24.3 32.8 24.3 31.4 23.9C30.0 23.5 28.5 22.9 27.4 22.4C26.3 21.9 25.3 21.4 24.8 20.9C24.2 20.4 23.9 19.6 24.0 19.1Z" fill="#9a9a9a"/>
<path d="M29.4 18.9C29.7 18.4 30.7 17.9 31.9 17.5C33.1 17.2 35.0 17.0 36.8 16.9C38.7 16.8 41.0 16.8 42.8 16.9C44.6 17.1 46.2 17.4 47.7 17.9C49.2 18.5 50.6 19.4 51.7 20.4C52.8 21.4 53.6 22.7 54.2 23.9C54.7 25.0 55.4 26.6 55.2 27.3C54.9 28.1 53.6 28.6 52.7 28.3C51.8 28.1 50.7 26.4 49.7 25.9C48.8 25.3 47.8 24.9 46.9 24.9C46.0 24.9 45.3 25.7 44.3 25.9C43.2 26.0 41.9 26.1 40.8 25.9C39.7 25.6 39.0 24.9 37.8 24.4C36.7 23.8 35.1 23.0 33.9 22.4C32.6 21.8 31.1 21.5 30.4 20.9C29.7 20.3 29.2 19.5 29.4 18.9Z" fill="#0a0a0a"/>
<path d="M45.3 27.8C45.7 27.2 48.0 27.1 49.2 27.3C50.5 27.6 51.9 28.3 52.7 29.3C53.5 30.3 54.2 32.2 54.2 33.3C54.2 34.3 53.3 35.3 52.7 35.8C52.0 36.2 51.0 36.5 50.2 36.2C49.5 36.0 48.8 35.1 48.2 34.3C47.6 33.4 47.0 32.4 46.5 31.3C46.0 30.2 44.8 28.5 45.3 27.8Z" fill="url(#gC1)"/>
<path d="M50.3 39.9C49.8 40.5 50.0 42.3 49.6 43.3C49.2 44.2 48.5 44.9 47.7 45.6C47.0 46.2 45.6 46.5 45.1 46.9C44.5 47.4 44.1 47.7 44.4 48.0C44.6 48.4 46.2 48.4 46.6 49.0C47.1 49.7 46.6 51.2 47.0 52.0C47.4 52.8 48.8 53.1 49.0 54.0C49.3 54.8 48.4 56.1 48.6 56.9C48.9 57.8 50.2 58.0 50.6 58.9C51.0 59.8 51.1 61.4 51.0 62.5C50.9 63.5 49.8 64.3 49.7 65.3C49.7 66.2 50.2 67.1 50.7 67.9C51.2 68.8 52.0 70.0 52.5 70.4C53.0 70.8 53.5 71.4 53.7 70.4C53.8 69.4 53.6 66.6 53.3 64.5C53.0 62.3 52.3 59.8 51.9 57.5C51.5 55.2 51.1 52.9 51.0 50.6C50.9 48.3 51.1 45.5 51.4 43.7C51.7 41.9 53.1 40.5 52.9 39.9C52.7 39.3 50.9 39.3 50.3 39.9Z" fill="url(#gC2)"/>
<path d="M35.4 19.4C35.3 18.9 36.3 18.4 37.3 18.1C38.3 17.8 40.0 17.7 41.3 17.7C42.6 17.8 44.2 18.0 45.3 18.4C46.3 18.8 47.5 19.6 47.5 20.1C47.6 20.7 46.7 21.4 45.8 21.7C44.8 22.0 43.1 22.1 41.8 22.1C40.5 22.0 38.9 21.8 37.8 21.4C36.8 21.0 35.4 20.0 35.4 19.4Z" fill="#555" stroke="#f0f0f0" stroke-width="0.9"/>
<ellipse cx="41.6" cy="20.1" rx="2.6" ry="0.9" fill="#0a0a0a"/>
<path d="M58.4 40.7C57.9 41.0 57.0 42.1 56.6 43.2C56.3 44.3 56.1 46.0 56.2 47.1C56.3 48.3 56.8 49.5 57.2 50.1C57.6 50.7 58.2 50.9 58.6 50.6C59.1 50.3 59.7 49.2 60.0 48.1C60.3 47.1 60.4 45.3 60.4 44.2C60.4 43.1 60.1 42.1 59.8 41.5C59.5 40.9 59.0 40.4 58.4 40.7Z" stroke="#f4f4f4" fill="none" stroke-width="1.05"/>
<ellipse cx="58.1" cy="47.8" rx="1.0" ry="2.0" fill="#eee"/>
<path d="M59.1 37.7C58.2 37.9 56.5 38.6 55.7 39.7C54.8 40.9 54.4 42.8 54.2 44.7C54.0 46.5 54.1 48.8 54.5 50.6C54.8 52.4 55.5 54.2 56.1 55.6C56.8 56.9 57.7 58.5 58.4 58.5C59.1 58.5 59.8 57.0 60.4 55.6C61.0 54.1 61.5 51.8 61.8 49.6C62.1 47.5 62.2 44.5 62.1 42.7C62.0 40.9 61.6 39.5 61.1 38.7C60.6 37.9 60.0 37.6 59.1 37.7Z" stroke="#f4f4f4" fill="none" stroke-width="1.05"/>
<path d="M53.7 37.7C53.4 38.6 52.3 40.5 51.9 42.7C51.5 44.8 51.4 48.0 51.5 50.6C51.6 53.2 52.0 56.2 52.5 58.5C52.9 60.8 53.7 62.3 54.2 64.5C54.6 66.6 55.0 70.4 55.2 71.6" stroke="#f4f4f4" fill="none" stroke-width="1.05"/>
<path d="M63.1 39.7C63.2 41.2 63.6 45.7 63.6 48.6C63.5 51.6 63.0 54.9 62.8 57.5C62.5 60.2 62.1 62.1 62.1 64.5C62.1 66.8 62.5 70.4 62.6 71.6" stroke="#bbb" fill="none" stroke-width="0.6"/>
<path d="M58.1 60.5C58.0 61.5 57.6 64.6 57.6 66.4C57.7 68.3 58.5 70.7 58.6 71.6" stroke="#ccc" fill="none" stroke-width="0.6"/>
</g></g>
<rect x="57" y="326.8" width="76" height="76.19999999999999" fill="none" stroke="#111" stroke-width="1.2"/>
<line x1="100.8" y1="326.8" x2="100.8" y2="403" stroke="#111" stroke-width="1.1"/>
<line x1="57" y1="361.3" x2="133" y2="361.3" stroke="#111" stroke-width="1.1"/>
<path d="M64 403 v2 M71.5 403 v2 M89 403 v2 M106.5 403 v2 M124 403 v2 " stroke="#111" stroke-width="0.9" fill="none"/>
<path d="M76.8 403 v1.4 M79.8 403 v1.4 M82.0 403 v1.4 M83.7 403 v1.4 M85.1 403 v1.4 M86.3 403 v1.4 M87.3 403 v1.4 M88.2 403 v1.4 M94.3 403 v1.4 M97.3 403 v1.4 M99.5 403 v1.4 M101.2 403 v1.4 M102.6 403 v1.4 M103.8 403 v1.4 M104.8 403 v1.4 M105.7 403 v1.4 M111.8 403 v1.4 M114.8 403 v1.4 M117.0 403 v1.4 M118.7 403 v1.4 M120.1 403 v1.4 M121.3 403 v1.4 M122.3 403 v1.4 M123.2 403 v1.4 M58.5 403 v1.4 M60.5 403 v1.4 M62.2 403 v1.4 M65.8 403 v1.4 M67.5 403 v1.4 M69.5 403 v1.4 " stroke="#222" stroke-width="0.6" fill="none"/>
<text x="55.4" y="334.8" font-size="5.2" text-anchor="end" fill="#111">10<tspan font-size="4.06" dy="-2.2">5</tspan></text>
<text x="55.4" y="352.1" font-size="5.2" text-anchor="end" fill="#111">10<tspan font-size="4.06" dy="-2.2">4</tspan></text>
<text x="55.4" y="370.9" font-size="5.2" text-anchor="end" fill="#111">10<tspan font-size="4.06" dy="-2.2">3</tspan></text>
<text x="55.4" y="389.0" font-size="5.2" text-anchor="end" fill="#111">10<tspan font-size="4.06" dy="-2.2">2</tspan></text>
<text x="53.8" y="397.8" font-size="5.2" text-anchor="end" font-weight="normal" font-style="normal" fill="#111">0</text>
<path d="M57 332.9 h-1.6 M57 350.2 h-1.6 M57 369.0 h-1.6 M57 387.1 h-1.6 M57 395.9 h-1.6 " stroke="#111" stroke-width="0.9" fill="none"/>
<path d="M57 345.0 h-1.2 M57 342.0 h-1.2 M57 339.8 h-1.2 M57 338.1 h-1.2 M57 336.8 h-1.2 M57 335.6 h-1.2 M57 334.6 h-1.2 M57 333.7 h-1.2 M57 363.3 h-1.2 M57 360.0 h-1.2 M57 357.7 h-1.2 M57 355.9 h-1.2 M57 354.4 h-1.2 M57 353.1 h-1.2 M57 352.0 h-1.2 M57 351.1 h-1.2 M57 381.6 h-1.2 M57 378.4 h-1.2 M57 376.2 h-1.2 M57 374.4 h-1.2 M57 373.0 h-1.2 M57 371.8 h-1.2 M57 370.7 h-1.2 M57 369.8 h-1.2 M57 392.9 h-1.2 M57 395.4 h-1.2 M57 399.9 h-1.2 M57 401.9 h-1.2 " stroke="#111" stroke-width="0.6" fill="none"/>
<text x="65.2" y="413.09999999999997" font-size="5.2" text-anchor="middle" font-weight="normal" font-style="normal" fill="#111">0</text>
<text x="73.6" y="413.1" font-size="5.2" text-anchor="middle" fill="#111">10<tspan font-size="4.06" dy="-2.2">2</tspan></text>
<text x="91.5" y="413.1" font-size="5.2" text-anchor="middle" fill="#111">10<tspan font-size="4.06" dy="-2.2">3</tspan></text>
<text x="108.2" y="413.1" font-size="5.2" text-anchor="middle" fill="#111">10<tspan font-size="4.06" dy="-2.2">4</tspan></text>
<text x="125.3" y="413.1" font-size="5.2" text-anchor="middle" fill="#111">10<tspan font-size="4.06" dy="-2.2">5</tspan></text>
<line x1="38.5" y1="419.2" x2="38.5" y2="331.3" stroke="#111" stroke-width="1.3"/>
<path d="M38.5 328.3 L35.4 335.8 L41.6 335.8 Z" fill="#111"/>
<line x1="37.9" y1="419.2" x2="131" y2="419.2" stroke="#111" stroke-width="1.3"/>
<path d="M134 419.2 L126.5 416.09999999999997 L126.5 422.3 Z" fill="#111"/>
<text x="93.3" y="433.8" font-size="9.2" text-anchor="middle" font-weight="normal" font-style="normal" fill="#111">CD14</text>
<text x="0" y="0" font-size="9.5" text-anchor="middle" font-weight="normal" font-style="normal" fill="#111" transform="translate(29.9 369.3) rotate(-90)">CD16</text>
<path d="M165.8 374.0 L165.9 396.5 L167.8 394.0 L169.6 389.0 L170.9 382.8 L172.1 376.5 L173.4 370.9 L174.2 373.4 L175.2 365.2 L176.2 361.5 L177.5 362.8 L178.4 355.2 L179.6 345.2 L180.9 339.0 L182.1 336.5 L183.4 332.1 L185.2 336.5 L187.8 374.0 L189.0 401.5 L189.0 402.9 L165.8 402.9 Z" fill="#e8e8e8" stroke="#111" stroke-width="0.9" stroke-linejoin="round"/>
<path d="M165.8 397.8 L167.1 399.0 L169.0 396.5 L170.9 391.5 L172.8 385.2 L174.6 377.8 L176.5 370.2 L177.8 365.2 L179.0 359.0 L180.2 351.5 L181.5 342.8 L182.5 337.8 L183.4 332.5 L184.6 332.8 L185.5 334.6 L186.2 342.8 L187.1 349.0 L188.0 355.2 L188.8 367.8 L189.6 380.2 L190.5 391.5 L191.5 399.0 L193.0 402.1 L194.6 402.9 L194.6 402.9 L165.8 402.9 Z" fill="#000" stroke="#000" stroke-width="0.6" stroke-linejoin="round"/>
<rect x="165.6" y="327.5" width="76.5" height="75.7" fill="none" stroke="#111" stroke-width="1.2"/>
<path d="M172.6 403.2 v2 M180.1 403.2 v2 M197.6 403.2 v2 M215.1 403.2 v2 M232.6 403.2 v2 " stroke="#111" stroke-width="0.9" fill="none"/>
<path d="M185.4 403.2 v1.4 M188.4 403.2 v1.4 M190.6 403.2 v1.4 M192.3 403.2 v1.4 M193.7 403.2 v1.4 M194.9 403.2 v1.4 M195.9 403.2 v1.4 M196.8 403.2 v1.4 M202.9 403.2 v1.4 M205.9 403.2 v1.4 M208.1 403.2 v1.4 M209.8 403.2 v1.4 M211.2 403.2 v1.4 M212.4 403.2 v1.4 M213.4 403.2 v1.4 M214.3 403.2 v1.4 M220.4 403.2 v1.4 M223.4 403.2 v1.4 M225.6 403.2 v1.4 M227.3 403.2 v1.4 M228.7 403.2 v1.4 M229.9 403.2 v1.4 M230.9 403.2 v1.4 M231.8 403.2 v1.4 M167.1 403.2 v1.4 M169.1 403.2 v1.4 M170.79999999999998 403.2 v1.4 M174.4 403.2 v1.4 M176.1 403.2 v1.4 M178.1 403.2 v1.4 " stroke="#222" stroke-width="0.6" fill="none"/>
<text x="160.29999999999998" y="405.0" font-size="5.2" text-anchor="end" font-weight="normal" font-style="normal" fill="#111">0</text>
<text x="160.29999999999998" y="390.7" font-size="5.2" text-anchor="end" font-weight="normal" font-style="normal" fill="#111">20</text>
<text x="160.29999999999998" y="376.3" font-size="5.2" text-anchor="end" font-weight="normal" font-style="normal" fill="#111">40</text>
<text x="160.29999999999998" y="362.0" font-size="5.2" text-anchor="end" font-weight="normal" font-style="normal" fill="#111">60</text>
<text x="160.29999999999998" y="347.6" font-size="5.2" text-anchor="end" font-weight="normal" font-style="normal" fill="#111">80</text>
<text x="160.29999999999998" y="333.3" font-size="5.2" text-anchor="end" font-weight="normal" font-style="normal" fill="#111">100</text>
<path d="M165.6 403.1 h-2.0 M165.6 388.8 h-2.0 M165.6 374.4 h-2.0 M165.6 360.1 h-2.0 M165.6 345.7 h-2.0 M165.6 331.4 h-2.0 " stroke="#111" stroke-width="0.8" fill="none"/>
<text x="174.0" y="413.2" font-size="5.2" text-anchor="middle" font-weight="normal" font-style="normal" fill="#111">0</text>
<text x="182.8" y="413.2" font-size="5.2" text-anchor="middle" fill="#111">10<tspan font-size="4.06" dy="-2.2">2</tspan></text>
<text x="200.8" y="413.2" font-size="5.2" text-anchor="middle" fill="#111">10<tspan font-size="4.06" dy="-2.2">3</tspan></text>
<text x="218.2" y="413.2" font-size="5.2" text-anchor="middle" fill="#111">10<tspan font-size="4.06" dy="-2.2">4</tspan></text>
<text x="234.6" y="413.2" font-size="5.2" text-anchor="middle" fill="#111">10<tspan font-size="4.06" dy="-2.2">5</tspan></text>
<text x="0" y="0" font-size="7.6" text-anchor="middle" font-weight="normal" font-style="normal" fill="#111" transform="translate(151.29999999999998 365.7) rotate(-90)">% of max</text>
<text x="203.6" y="319.6" font-size="10" text-anchor="middle" fill="#111">CD14<tspan font-size="9.5" dy="-3.3" dx="0.6">+</tspan><tspan dy="3.3">/CD16</tspan></text>
<path d="M270.6 387.8 L271.4 397.8 L272.6 399.0 L273.9 396.5 L275.1 392.1 L276.4 392.8 L277.6 386.5 L278.9 377.8 L279.9 373.4 L281.0 379.0 L282.0 371.5 L283.0 361.5 L284.2 353.4 L285.1 357.8 L286.0 360.2 L287.0 356.5 L288.9 361.5 L292.0 399.0 L292.0 402.9 L270.6 402.9 Z" fill="#f4f4f4" stroke="#111" stroke-width="0.9" stroke-linejoin="round"/>
<path d="M270.6 389.0 L271.0 399.0 L272.6 400.2 L273.9 397.8 L275.1 392.8 L276.0 396.5 L277.2 394.0 L278.5 389.0 L279.8 385.2 L281.0 382.8 L282.2 379.0 L283.5 372.8 L284.8 366.5 L285.8 359.0 L286.8 357.8 L287.6 346.5 L288.5 332.8 L289.5 332.1 L290.1 342.8 L290.8 351.5 L291.6 342.8 L292.2 349.0 L293.0 365.2 L293.9 370.2 L294.8 371.5 L295.5 380.2 L296.4 387.8 L297.6 395.2 L298.9 400.2 L300.1 402.8 L303.2 402.9 L304.5 402.1 L306.0 402.9 L306.0 402.9 L270.6 402.9 Z" fill="#000" stroke="#000" stroke-width="0.6" stroke-linejoin="round"/>
<rect x="270.4" y="327.7" width="76.4" height="75.5" fill="none" stroke="#111" stroke-width="1.2"/>
<path d="M277.4 403.2 v2 M284.9 403.2 v2 M302.4 403.2 v2 M319.9 403.2 v2 M337.4 403.2 v2 " stroke="#111" stroke-width="0.9" fill="none"/>
<path d="M290.2 403.2 v1.4 M293.2 403.2 v1.4 M295.4 403.2 v1.4 M297.1 403.2 v1.4 M298.5 403.2 v1.4 M299.7 403.2 v1.4 M300.7 403.2 v1.4 M301.6 403.2 v1.4 M307.7 403.2 v1.4 M310.7 403.2 v1.4 M312.9 403.2 v1.4 M314.6 403.2 v1.4 M316.0 403.2 v1.4 M317.2 403.2 v1.4 M318.2 403.2 v1.4 M319.1 403.2 v1.4 M325.2 403.2 v1.4 M328.2 403.2 v1.4 M330.4 403.2 v1.4 M332.1 403.2 v1.4 M333.5 403.2 v1.4 M334.7 403.2 v1.4 M335.7 403.2 v1.4 M336.6 403.2 v1.4 M271.9 403.2 v1.4 M273.9 403.2 v1.4 M275.59999999999997 403.2 v1.4 M279.2 403.2 v1.4 M280.9 403.2 v1.4 M282.9 403.2 v1.4 " stroke="#222" stroke-width="0.6" fill="none"/>
<text x="265.40000000000003" y="405.0" font-size="5.2" text-anchor="end" font-weight="normal" font-style="normal" fill="#111">0</text>
<text x="265.40000000000003" y="390.7" font-size="5.2" text-anchor="end" font-weight="normal" font-style="normal" fill="#111">20</text>
<text x="265.40000000000003" y="376.3" font-size="5.2" text-anchor="end" font-weight="normal" font-style="normal" fill="#111">40</text>
<text x="265.40000000000003" y="362.0" font-size="5.2" text-anchor="end" font-weight="normal" font-style="normal" fill="#111">60</text>
<text x="265.40000000000003" y="347.6" font-size="5.2" text-anchor="end" font-weight="normal" font-style="normal" fill="#111">80</text>
<text x="265.40000000000003" y="333.3" font-size="5.2" text-anchor="end" font-weight="normal" font-style="normal" fill="#111">100</text>
<path d="M270.4 403.1 h-1.7 M270.4 388.8 h-1.7 M270.4 374.4 h-1.7 M270.4 360.1 h-1.7 M270.4 345.7 h-1.7 M270.4 331.4 h-1.7 " stroke="#111" stroke-width="0.8" fill="none"/>
<text x="279.1" y="413.2" font-size="5.2" text-anchor="middle" font-weight="normal" font-style="normal" fill="#111">0</text>
<text x="287.9" y="413.2" font-size="5.2" text-anchor="middle" fill="#111">10<tspan font-size="4.06" dy="-2.2">2</tspan></text>
<text x="305.9" y="413.2" font-size="5.2" text-anchor="middle" fill="#111">10<tspan font-size="4.06" dy="-2.2">3</tspan></text>
<text x="323.3" y="413.2" font-size="5.2" text-anchor="middle" fill="#111">10<tspan font-size="4.06" dy="-2.2">4</tspan></text>
<text x="339.7" y="413.2" font-size="5.2" text-anchor="middle" fill="#111">10<tspan font-size="4.06" dy="-2.2">5</tspan></text>
<text x="0" y="0" font-size="7.6" text-anchor="middle" font-weight="normal" font-style="normal" fill="#111" transform="translate(256.40000000000003 365.8) rotate(-90)">% of max</text>
<text x="308.4" y="319.8" font-size="10" text-anchor="middle" fill="#111">CD14<tspan font-size="9.5" dy="-3.3" dx="0.6">+</tspan><tspan dy="3.3">/CD16</tspan><tspan font-size="9.5" dy="-3.3" dx="0.6">+</tspan></text>
<path d="M375.9 384.0 L376.6 391.5 L377.9 390.2 L379.1 386.5 L380.4 381.5 L382.9 380.9 L383.5 374.0 L384.5 365.2 L385.4 356.5 L386.2 355.2 L387.2 342.1 L388.2 345.2 L389.1 341.5 L390.0 336.5 L390.8 340.2 L391.6 336.5 L393.5 349.0 L396.0 386.5 L397.2 401.5 L397.2 402.9 L375.9 402.9 Z" fill="#f0f0f0" stroke="#111" stroke-width="0.9" stroke-linejoin="round"/>
<path d="M375.9 385.2 L376.6 397.8 L378.5 395.2 L380.4 391.5 L382.2 386.5 L383.5 381.5 L384.8 376.5 L386.0 370.2 L387.2 362.8 L388.5 355.2 L389.8 350.2 L391.0 345.2 L392.0 337.8 L392.9 332.1 L394.1 332.8 L394.8 340.2 L395.8 344.6 L396.6 345.2 L397.5 350.2 L398.5 349.0 L399.1 356.5 L400.0 366.5 L400.8 376.5 L401.6 380.2 L402.5 382.8 L403.5 390.2 L404.8 396.5 L406.6 400.2 L409.1 401.8 L411.0 399.0 L412.2 401.5 L414.1 402.9 L421.0 402.8 L426.0 402.1 L429.8 402.8 L429.8 402.9 L375.9 402.9 Z" fill="#000" stroke="#000" stroke-width="0.6" stroke-linejoin="round"/>
<rect x="375.7" y="327.7" width="76.6" height="75.5" fill="none" stroke="#111" stroke-width="1.2"/>
<path d="M382.7 403.2 v2 M390.2 403.2 v2 M407.7 403.2 v2 M425.2 403.2 v2 M442.7 403.2 v2 " stroke="#111" stroke-width="0.9" fill="none"/>
<path d="M395.5 403.2 v1.4 M398.5 403.2 v1.4 M400.7 403.2 v1.4 M402.4 403.2 v1.4 M403.8 403.2 v1.4 M405.0 403.2 v1.4 M406.0 403.2 v1.4 M406.9 403.2 v1.4 M413.0 403.2 v1.4 M416.0 403.2 v1.4 M418.2 403.2 v1.4 M419.9 403.2 v1.4 M421.3 403.2 v1.4 M422.5 403.2 v1.4 M423.5 403.2 v1.4 M424.4 403.2 v1.4 M430.5 403.2 v1.4 M433.5 403.2 v1.4 M435.7 403.2 v1.4 M437.4 403.2 v1.4 M438.8 403.2 v1.4 M440.0 403.2 v1.4 M441.0 403.2 v1.4 M441.9 403.2 v1.4 M377.2 403.2 v1.4 M379.2 403.2 v1.4 M380.9 403.2 v1.4 M384.5 403.2 v1.4 M386.2 403.2 v1.4 M388.2 403.2 v1.4 " stroke="#222" stroke-width="0.6" fill="none"/>
<text x="370.40000000000003" y="405.0" font-size="5.2" text-anchor="end" font-weight="normal" font-style="normal" fill="#111">0</text>
<text x="370.40000000000003" y="390.7" font-size="5.2" text-anchor="end" font-weight="normal" font-style="normal" fill="#111">20</text>
<text x="370.40000000000003" y="376.3" font-size="5.2" text-anchor="end" font-weight="normal" font-style="normal" fill="#111">40</text>
<text x="370.40000000000003" y="362.0" font-size="5.2" text-anchor="end" font-weight="normal" font-style="normal" fill="#111">60</text>
<text x="370.40000000000003" y="347.6" font-size="5.2" text-anchor="end" font-weight="normal" font-style="normal" fill="#111">80</text>
<text x="370.40000000000003" y="333.3" font-size="5.2" text-anchor="end" font-weight="normal" font-style="normal" fill="#111">100</text>
<path d="M375.7 403.1 h-2.0 M375.7 388.8 h-2.0 M375.7 374.4 h-2.0 M375.7 360.1 h-2.0 M375.7 345.7 h-2.0 M375.7 331.4 h-2.0 " stroke="#111" stroke-width="0.8" fill="none"/>
<text x="384.1" y="413.2" font-size="5.2" text-anchor="middle" font-weight="normal" font-style="normal" fill="#111">0</text>
<text x="392.9" y="413.2" font-size="5.2" text-anchor="middle" fill="#111">10<tspan font-size="4.06" dy="-2.2">2</tspan></text>
<text x="410.9" y="413.2" font-size="5.2" text-anchor="middle" fill="#111">10<tspan font-size="4.06" dy="-2.2">3</tspan></text>
<text x="428.3" y="413.2" font-size="5.2" text-anchor="middle" fill="#111">10<tspan font-size="4.06" dy="-2.2">4</tspan></text>
<text x="444.7" y="413.2" font-size="5.2" text-anchor="middle" fill="#111">10<tspan font-size="4.06" dy="-2.2">5</tspan></text>
<text x="0" y="0" font-size="7.6" text-anchor="middle" font-weight="normal" font-style="normal" fill="#111" transform="translate(361.40000000000003 365.8) rotate(-90)">% of max</text>
<text x="413.7" y="319.8" font-size="10" text-anchor="middle" fill="#111">CD14<tspan font-size="9" dy="-3.6" dx="0.3">dim</tspan><tspan dy="3.6" dx="0.3">/CD16</tspan><tspan font-size="9.5" dy="-3.3" dx="0.6">+</tspan></text>
<line x1="157.6" y1="419.5" x2="451.3" y2="419.5" stroke="#111" stroke-width="1.25"/>
<path d="M454.3 419.5 L448.0 416.9 L448.0 422.1 Z" fill="#111"/>
<text x="311" y="433.8" font-size="9" text-anchor="middle" font-weight="normal" font-style="normal" fill="#111">B7-H6</text>
<text x="0.9" y="458.2" font-size="11.8" text-anchor="start" font-weight="bold" font-style="normal" fill="#000">D</text>
<path d="M34 459.8 V614.3 H133.7" fill="none" stroke="#2a2a2a" stroke-width="1.05"/>
<line x1="29.5" y1="614.3" x2="34" y2="614.3" stroke="#2a2a2a" stroke-width="1.1"/>
<text x="25.5" y="617.5" font-size="9" text-anchor="end" font-weight="normal" font-style="normal" fill="#111">0</text>
<line x1="29.5" y1="583.4" x2="34" y2="583.4" stroke="#2a2a2a" stroke-width="1.1"/>
<text x="27.7" y="586.6" font-size="9" text-anchor="end" font-weight="normal" font-style="normal" fill="#111">10</text>
<line x1="29.5" y1="552.5" x2="34" y2="552.5" stroke="#2a2a2a" stroke-width="1.1"/>
<text x="27.7" y="555.8" font-size="9" text-anchor="end" font-weight="normal" font-style="normal" fill="#111">20</text>
<line x1="29.5" y1="521.6" x2="34" y2="521.6" stroke="#2a2a2a" stroke-width="1.1"/>
<text x="27.7" y="524.9" font-size="9" text-anchor="end" font-weight="normal" font-style="normal" fill="#111">30</text>
<line x1="29.5" y1="490.7" x2="34" y2="490.7" stroke="#2a2a2a" stroke-width="1.1"/>
<text x="27.7" y="493.9" font-size="9" text-anchor="end" font-weight="normal" font-style="normal" fill="#111">40</text>
<line x1="29.5" y1="459.8" x2="34" y2="459.8" stroke="#2a2a2a" stroke-width="1.1"/>
<text x="27.7" y="463.1" font-size="9" text-anchor="end" font-weight="normal" font-style="normal" fill="#111">50</text>
<line x1="51.2" y1="614.3" x2="51.2" y2="617.3" stroke="#2a2a2a" stroke-width="1"/>
<line x1="85.4" y1="614.3" x2="85.4" y2="617.3" stroke="#2a2a2a" stroke-width="1"/>
<line x1="119.9" y1="614.3" x2="119.9" y2="617.3" stroke="#2a2a2a" stroke-width="1"/>
<text x="0" y="0" font-size="9.4" text-anchor="middle" font-weight="normal" font-style="normal" fill="#111" transform="translate(8.7 534.5) rotate(-90) scale(1.17 1)">sB7-H6 (ng/ml)</text>
<circle cx="43.0" cy="614.3" r="1.9" fill="#000"/>
<circle cx="44.3" cy="614.3" r="1.9" fill="#000"/>
<circle cx="45.5" cy="614.3" r="1.9" fill="#000"/>
<circle cx="46.8" cy="614.3" r="1.9" fill="#000"/>
<circle cx="48.0" cy="614.3" r="1.9" fill="#000"/>
<circle cx="49.3" cy="614.3" r="1.9" fill="#000"/>
<circle cx="50.6" cy="614.3" r="1.9" fill="#000"/>
<circle cx="51.8" cy="614.3" r="1.9" fill="#000"/>
<circle cx="53.1" cy="614.3" r="1.9" fill="#000"/>
<circle cx="54.3" cy="614.3" r="1.9" fill="#000"/>
<circle cx="55.6" cy="614.3" r="1.9" fill="#000"/>
<circle cx="56.9" cy="614.3" r="1.9" fill="#000"/>
<circle cx="58.1" cy="614.3" r="1.9" fill="#000"/>
<circle cx="59.4" cy="614.3" r="1.9" fill="#000"/>
<circle cx="78.0" cy="614.3" r="1.9" fill="#000"/>
<circle cx="79.3" cy="614.3" r="1.9" fill="#000"/>
<circle cx="80.6" cy="614.3" r="1.9" fill="#000"/>
<circle cx="82.0" cy="614.3" r="1.9" fill="#000"/>
<circle cx="83.3" cy="614.3" r="1.9" fill="#000"/>
<circle cx="84.6" cy="614.3" r="1.9" fill="#000"/>
<circle cx="85.9" cy="614.3" r="1.9" fill="#000"/>
<circle cx="87.2" cy="614.3" r="1.9" fill="#000"/>
<circle cx="88.6" cy="614.3" r="1.9" fill="#000"/>
<circle cx="89.9" cy="614.3" r="1.9" fill="#000"/>
<circle cx="91.2" cy="614.3" r="1.9" fill="#000"/>
<circle cx="92.5" cy="614.3" r="1.9" fill="#000"/>
<circle cx="110.7" cy="614.3" r="1.9" fill="#000"/>
<circle cx="111.9" cy="614.3" r="1.9" fill="#000"/>
<circle cx="113.1" cy="614.3" r="1.9" fill="#000"/>
<circle cx="114.3" cy="614.3" r="1.9" fill="#000"/>
<circle cx="115.5" cy="614.3" r="1.9" fill="#000"/>
<circle cx="116.7" cy="614.3" r="1.9" fill="#000"/>
<circle cx="117.9" cy="614.3" r="1.9" fill="#000"/>
<circle cx="119.1" cy="614.3" r="1.9" fill="#000"/>
<circle cx="120.3" cy="614.3" r="1.9" fill="#000"/>
<circle cx="121.5" cy="614.3" r="1.9" fill="#000"/>
<circle cx="122.7" cy="614.3" r="1.9" fill="#000"/>
<circle cx="123.9" cy="614.3" r="1.9" fill="#000"/>
<circle cx="125.1" cy="614.3" r="1.9" fill="#000"/>
<circle cx="126.3" cy="614.3" r="1.9" fill="#000"/>
<circle cx="127.5" cy="614.3" r="1.9" fill="#000"/>
<circle cx="128.7" cy="614.3" r="1.9" fill="#000"/>
<circle cx="129.9" cy="614.3" r="1.9" fill="#000"/>
<circle cx="120.0" cy="490.7" r="1.9" fill="#000"/>
<circle cx="120.0" cy="533.3" r="1.9" fill="#000"/>
<circle cx="120.0" cy="550.0" r="1.9" fill="#000"/>
<circle cx="112.5" cy="584.1" r="1.9" fill="#000"/>
<circle cx="117.7" cy="586.6" r="1.9" fill="#000"/>
<circle cx="122.5" cy="587.3" r="1.9" fill="#000"/>
<circle cx="127.1" cy="586.2" r="1.9" fill="#000"/>
<circle cx="119.8" cy="594.3" r="1.9" fill="#000"/>
<circle cx="119.8" cy="602.1" r="1.9" fill="#000"/>
<circle cx="122.5" cy="610.8" r="1.9" fill="#000"/>
<line x1="79" y1="475.3" x2="128" y2="475.3" stroke="#333" stroke-width="0.9"/>
<text x="81.3" y="472.3" font-size="11" text-anchor="start" font-weight="normal" font-style="normal" fill="#111">*</text>
<text x="90.3" y="472.2" font-size="9.6" fill="#111"><tspan font-style="italic">p</tspan>=0.018</text>
<text x="52.2" y="637" font-size="9.2" text-anchor="middle" font-weight="normal" font-style="normal" fill="#111">Healthy</text>
<text x="51" y="648.2" font-size="9.2" text-anchor="middle" font-weight="normal" font-style="normal" fill="#111">n=14</text>
<text x="85" y="632.8" font-size="9.2" text-anchor="middle" font-weight="normal" font-style="normal" fill="#111">SIRS</text>
<text x="85.5" y="643.4" font-size="9.2" text-anchor="middle" font-weight="normal" font-style="normal" fill="#111">group</text>
<text x="85.4" y="654.6" font-size="9.2" text-anchor="middle" font-weight="normal" font-style="normal" fill="#111">n=12</text>
<text x="121" y="632.8" font-size="9.2" text-anchor="middle" font-weight="normal" font-style="normal" fill="#111">Sepsis</text>
<text x="120.1" y="643.4" font-size="9.2" text-anchor="middle" font-weight="normal" font-style="normal" fill="#111">group</text>
<text x="119.5" y="654.6" font-size="9.2" text-anchor="middle" font-weight="normal" font-style="normal" fill="#111">n=27</text>
<text x="155" y="458.2" font-size="11.8" text-anchor="start" font-weight="bold" font-style="normal" fill="#000">E</text>
<path d="M185.5 460.8 V615.6 H276.5" fill="none" stroke="#2a2a2a" stroke-width="1.05"/>
<line x1="181.3" y1="615.6" x2="185.5" y2="615.6" stroke="#2a2a2a" stroke-width="1.1"/>
<text x="178.5" y="618.9" font-size="9" text-anchor="end" font-weight="normal" font-style="normal" fill="#111">0</text>
<line x1="181.3" y1="584.6" x2="185.5" y2="584.6" stroke="#2a2a2a" stroke-width="1.1"/>
<text x="180.7" y="587.9" font-size="9" text-anchor="end" font-weight="normal" font-style="normal" fill="#111">10</text>
<line x1="181.3" y1="553.7" x2="185.5" y2="553.7" stroke="#2a2a2a" stroke-width="1.1"/>
<text x="180.7" y="556.9" font-size="9" text-anchor="end" font-weight="normal" font-style="normal" fill="#111">20</text>
<line x1="181.3" y1="522.7" x2="185.5" y2="522.7" stroke="#2a2a2a" stroke-width="1.1"/>
<text x="180.7" y="526.0" font-size="9" text-anchor="end" font-weight="normal" font-style="normal" fill="#111">30</text>
<line x1="181.3" y1="491.8" x2="185.5" y2="491.8" stroke="#2a2a2a" stroke-width="1.1"/>
<text x="180.7" y="495.0" font-size="9" text-anchor="end" font-weight="normal" font-style="normal" fill="#111">40</text>
<line x1="181.3" y1="460.8" x2="185.5" y2="460.8" stroke="#2a2a2a" stroke-width="1.1"/>
<text x="180.7" y="464.1" font-size="9" text-anchor="end" font-weight="normal" font-style="normal" fill="#111">50</text>
<line x1="207.5" y1="615.6" x2="207.5" y2="618.6" stroke="#2a2a2a" stroke-width="1"/>
<line x1="253.3" y1="615.6" x2="253.3" y2="618.6" stroke="#2a2a2a" stroke-width="1"/>
<text x="0" y="0" font-size="9.4" text-anchor="middle" font-weight="normal" font-style="normal" fill="#111" transform="translate(159.1 534.8) rotate(-90) scale(1.17 1)">sB7-H6 (ng/ml)</text>
<circle cx="196.9" cy="615.6" r="1.75" fill="#000"/>
<circle cx="199.7" cy="615.6" r="1.75" fill="#000"/>
<circle cx="202.6" cy="615.6" r="1.75" fill="#000"/>
<circle cx="205.4" cy="615.6" r="1.75" fill="#000"/>
<circle cx="208.2" cy="615.6" r="1.75" fill="#000"/>
<circle cx="211.1" cy="615.6" r="1.75" fill="#000"/>
<circle cx="213.9" cy="615.6" r="1.75" fill="#000"/>
<circle cx="216.7" cy="615.6" r="1.75" fill="#000"/>
<circle cx="219.5" cy="615.6" r="1.75" fill="#000"/>
<circle cx="245.8" cy="615.6" r="1.75" fill="#000"/>
<circle cx="249.3" cy="615.6" r="1.75" fill="#000"/>
<circle cx="252.5" cy="615.6" r="1.75" fill="#000"/>
<circle cx="258.2" cy="615.6" r="1.75" fill="#000"/>
<circle cx="261.4" cy="615.6" r="1.75" fill="#000"/>
<circle cx="264.1" cy="615.6" r="1.75" fill="#000"/>
<circle cx="267.3" cy="615.6" r="1.75" fill="#000"/>
<circle cx="253.4" cy="491.8" r="1.75" fill="#000"/>
<circle cx="253.4" cy="534.5" r="1.75" fill="#000"/>
<circle cx="253.4" cy="551.2" r="1.75" fill="#000"/>
<circle cx="247.5" cy="585.4" r="1.75" fill="#000"/>
<circle cx="251.8" cy="587.3" r="1.75" fill="#000"/>
<circle cx="255.5" cy="588.4" r="1.75" fill="#000"/>
<circle cx="259.9" cy="587.0" r="1.75" fill="#000"/>
<circle cx="253.7" cy="595.4" r="1.75" fill="#000"/>
<circle cx="253.7" cy="602.9" r="1.75" fill="#000"/>
<circle cx="254.5" cy="611.8" r="1.75" fill="#000"/>
<line x1="198" y1="464.2" x2="260" y2="464.2" stroke="#333" stroke-width="1.1"/>
<text x="203" y="459.8" font-size="11" text-anchor="start" font-weight="normal" font-style="normal" fill="#111">**</text>
<text x="217.8" y="459.5" font-size="9.5" fill="#111"><tspan font-style="italic">p</tspan>=0.0082</text>
<text x="195" y="632" font-size="9.2" text-anchor="start" font-weight="normal" font-style="normal" fill="#111">Gram</text>
<text x="220.2" y="627.5" font-size="9.5" text-anchor="start" font-weight="normal" font-style="normal" fill="#111">+</text>
<text x="200" y="642.5" font-size="9.2" text-anchor="start" font-weight="normal" font-style="normal" fill="#111">n=9</text>
<text x="241.7" y="632" font-size="9.2" text-anchor="start" font-weight="normal" font-style="normal" fill="#111">Gram</text>
<text x="268" y="628" font-size="9.5" text-anchor="start" font-weight="normal" font-style="normal" fill="#111">-</text>
<text x="244.6" y="642.5" font-size="9.2" text-anchor="start" font-weight="normal" font-style="normal" fill="#111">n=18</text>
<text x="290.5" y="459" font-size="12.5" text-anchor="start" font-weight="bold" font-style="normal" fill="#000">F</text>
<rect x="323" y="462" width="194.5" height="152.5" fill="#fff" stroke="#7c7c7c" stroke-width="0.9"/>
<line x1="320" y1="607.5" x2="323" y2="607.5" stroke="#777" stroke-width="0.8"/>
<text x="318.3" y="610.8" font-size="9.1" text-anchor="end" font-weight="normal" font-style="normal" fill="#111">0.0</text>
<line x1="320" y1="579.8" x2="323" y2="579.8" stroke="#777" stroke-width="0.8"/>
<text x="318.3" y="583.1" font-size="9.1" text-anchor="end" font-weight="normal" font-style="normal" fill="#111">0.2</text>
<line x1="320" y1="552.2" x2="323" y2="552.2" stroke="#777" stroke-width="0.8"/>
<text x="318.3" y="555.5" font-size="9.1" text-anchor="end" font-weight="normal" font-style="normal" fill="#111">0.4</text>
<line x1="320" y1="524.5" x2="323" y2="524.5" stroke="#777" stroke-width="0.8"/>
<text x="318.3" y="527.8" font-size="9.1" text-anchor="end" font-weight="normal" font-style="normal" fill="#111">0.6</text>
<line x1="320" y1="496.9" x2="323" y2="496.9" stroke="#777" stroke-width="0.8"/>
<text x="318.3" y="500.2" font-size="9.1" text-anchor="end" font-weight="normal" font-style="normal" fill="#111">0.8</text>
<line x1="320" y1="469.2" x2="323" y2="469.2" stroke="#777" stroke-width="0.8"/>
<text x="318.3" y="472.5" font-size="9.1" text-anchor="end" font-weight="normal" font-style="normal" fill="#111">1.0</text>
<line x1="323.0" y1="614.5" x2="323.0" y2="617.5" stroke="#777" stroke-width="0.8"/>
<text x="323.0" y="628.5" font-size="9.5" text-anchor="middle" font-weight="normal" font-style="normal" fill="#111">0</text>
<line x1="354.1" y1="614.5" x2="354.1" y2="617.5" stroke="#777" stroke-width="0.8"/>
<text x="354.1" y="628.5" font-size="9.5" text-anchor="middle" font-weight="normal" font-style="normal" fill="#111">5</text>
<line x1="385.3" y1="614.5" x2="385.3" y2="617.5" stroke="#777" stroke-width="0.8"/>
<text x="385.3" y="628.5" font-size="9.5" text-anchor="middle" font-weight="normal" font-style="normal" fill="#111">10</text>
<line x1="416.4" y1="614.5" x2="416.4" y2="617.5" stroke="#777" stroke-width="0.8"/>
<text x="416.4" y="628.5" font-size="9.5" text-anchor="middle" font-weight="normal" font-style="normal" fill="#111">15</text>
<line x1="447.6" y1="614.5" x2="447.6" y2="617.5" stroke="#777" stroke-width="0.8"/>
<text x="447.6" y="628.5" font-size="9.5" text-anchor="middle" font-weight="normal" font-style="normal" fill="#111">20</text>
<line x1="478.8" y1="614.5" x2="478.8" y2="617.5" stroke="#777" stroke-width="0.8"/>
<text x="478.8" y="628.5" font-size="9.5" text-anchor="middle" font-weight="normal" font-style="normal" fill="#111">25</text>
<line x1="509.9" y1="614.5" x2="509.9" y2="617.5" stroke="#777" stroke-width="0.8"/>
<text x="509.9" y="628.5" font-size="9.5" text-anchor="middle" font-weight="normal" font-style="normal" fill="#111">30</text>
<polyline points="323.0,469.2 335.5,469.2 335.5,478.5 341.7,478.5 341.7,487.6 354.1,487.6 354.1,496.9 385.3,496.9 385.3,506.1 410.2,506.1 410.2,515.3 435.1,515.3 435.1,524.5 509.9,524.5" fill="none" stroke="#6a6a6a" stroke-width="0.95"/>
<polyline points="323.0,469.2 416.4,469.2 416.4,477.4 509.9,477.4 509.9,485.8" fill="none" stroke="#222" stroke-width="1"/>
<circle cx="509.9" cy="524.5" r="0.9" fill="#333"/>
<circle cx="509.9" cy="485.8" r="0.9" fill="#222"/>
<line x1="335" y1="548.8" x2="347.5" y2="548.8" stroke="#111" stroke-width="1.3"/>
<line x1="335" y1="572.3" x2="347.5" y2="572.3" stroke="#999" stroke-width="0.9" stroke-dasharray="2.6 2"/>
<text x="349.7" y="548.2" font-size="9.3" text-anchor="start" font-weight="normal" font-style="normal" fill="#111">mB7H6</text>
<text x="384" y="545.2" font-size="10.5" text-anchor="start" font-weight="bold" font-style="normal" fill="#111">-</text>
<text x="349.7" y="558" font-size="9.3" text-anchor="start" font-weight="normal" font-style="normal" fill="#111">n=17</text>
<text x="349.7" y="571.7" font-size="9.3" text-anchor="start" font-weight="normal" font-style="normal" fill="#111">mB7H6</text>
<text x="382.9" y="569.5" font-size="9.8" text-anchor="start" font-weight="normal" font-style="normal" fill="#111">+</text>
<text x="349.7" y="580.7" font-size="9.3" text-anchor="start" font-weight="normal" font-style="normal" fill="#111">n=15</text>
<text x="331.5" y="607.2" font-size="9.3" fill="#111" textLength="124.6" lengthAdjust="spacingAndGlyphs">Log Rank Chi<tspan font-size="6" dy="-3.5">2</tspan><tspan dy="3.5">=3.88; </tspan><tspan font-style="italic">p</tspan>=0.049</text>
<text x="417" y="644.1" font-size="10.7" text-anchor="middle" font-weight="normal" font-style="normal" fill="#111">days</text>
<text x="0" y="0" font-size="10" text-anchor="middle" font-weight="normal" font-style="normal" fill="#111" transform="translate(299.3 536.5) rotate(-90) scale(1.08 1)">Survival probability</text>
</svg>
</body></html>
